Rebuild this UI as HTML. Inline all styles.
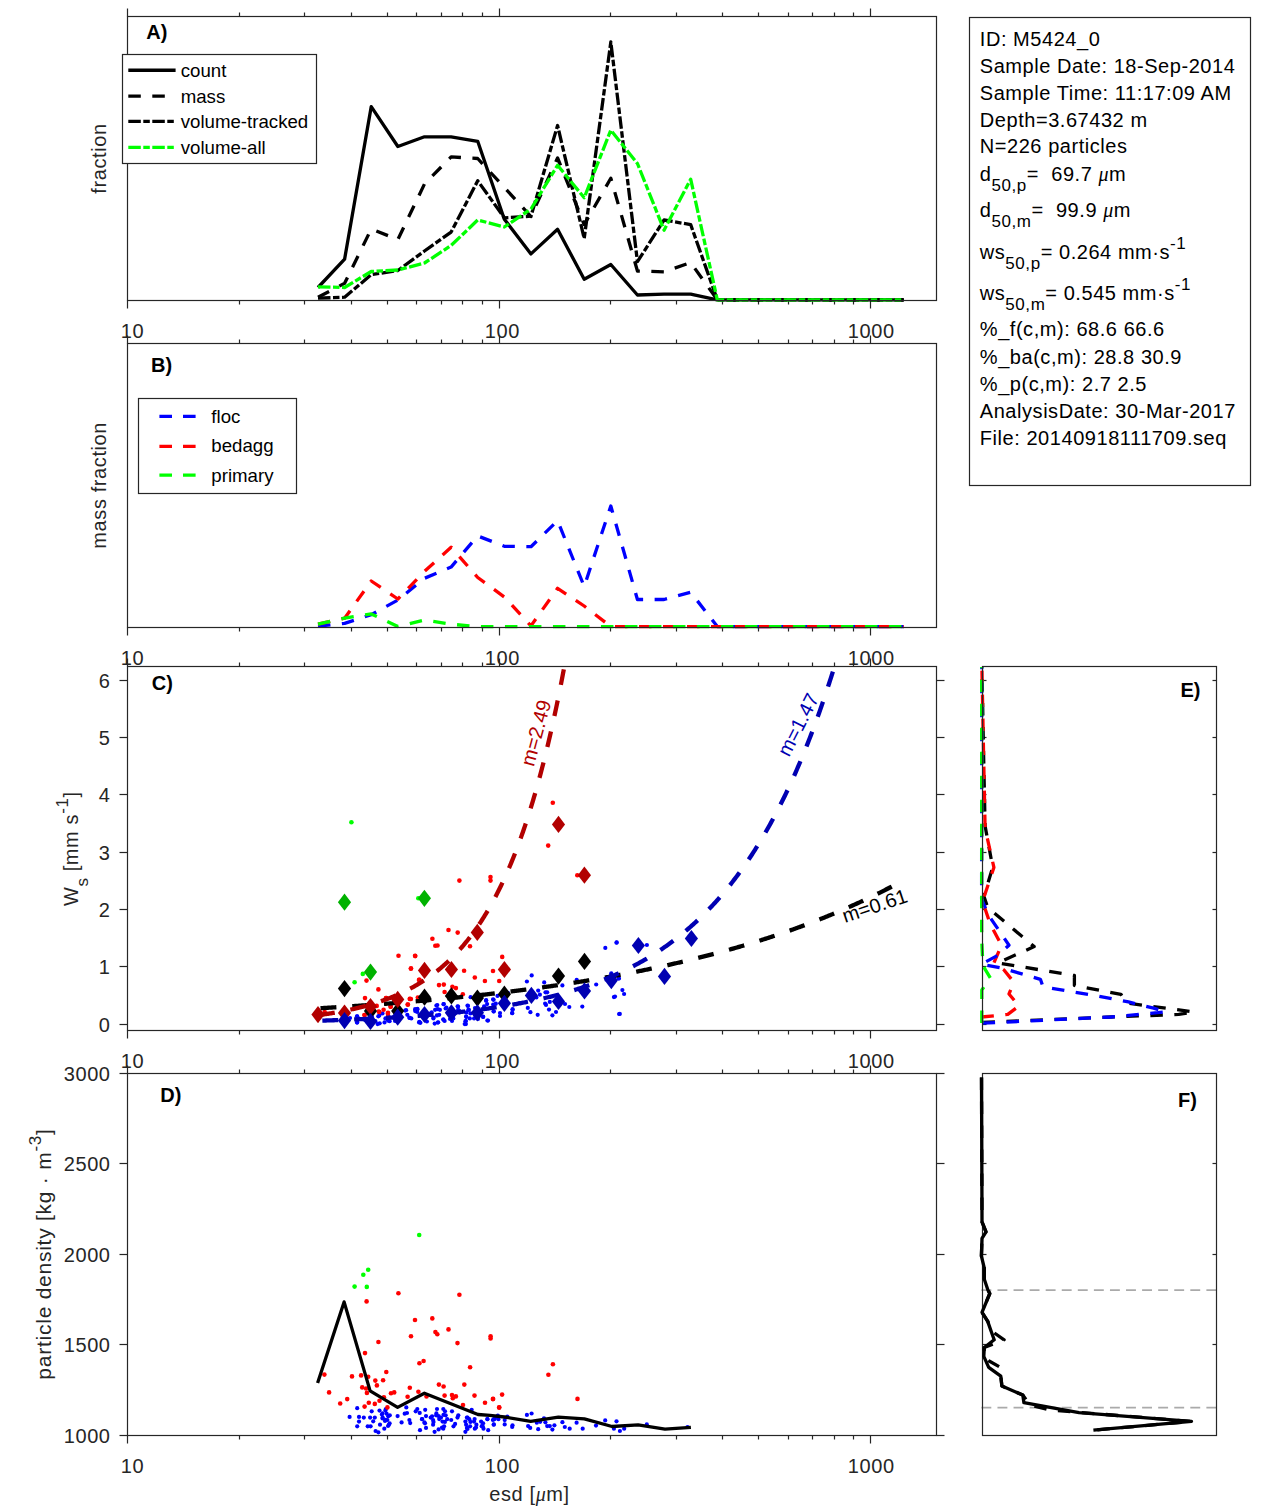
<!DOCTYPE html><html><head><meta charset="utf-8"><style>html,body{margin:0;padding:0;background:#fff;width:1270px;height:1511px;overflow:hidden}svg{display:block}</style></head><body><svg width="1270" height="1511" viewBox="0 0 1270 1511" font-family="Liberation Sans, sans-serif">
<rect width="1270" height="1511" fill="#fff"/>
<line x1="127.5" y1="300.5" x2="127.5" y2="308.5" stroke="#262626" stroke-width="1.2"/>
<line x1="127.5" y1="16.5" x2="127.5" y2="8.5" stroke="#262626" stroke-width="1.2"/>
<line x1="239.5" y1="300.5" x2="239.5" y2="304.5" stroke="#262626" stroke-width="1.2"/>
<line x1="239.5" y1="16.5" x2="239.5" y2="12.5" stroke="#262626" stroke-width="1.2"/>
<line x1="304.5" y1="300.5" x2="304.5" y2="304.5" stroke="#262626" stroke-width="1.2"/>
<line x1="304.5" y1="16.5" x2="304.5" y2="12.5" stroke="#262626" stroke-width="1.2"/>
<line x1="351.5" y1="300.5" x2="351.5" y2="304.5" stroke="#262626" stroke-width="1.2"/>
<line x1="351.5" y1="16.5" x2="351.5" y2="12.5" stroke="#262626" stroke-width="1.2"/>
<line x1="387.5" y1="300.5" x2="387.5" y2="304.5" stroke="#262626" stroke-width="1.2"/>
<line x1="387.5" y1="16.5" x2="387.5" y2="12.5" stroke="#262626" stroke-width="1.2"/>
<line x1="416.5" y1="300.5" x2="416.5" y2="304.5" stroke="#262626" stroke-width="1.2"/>
<line x1="416.5" y1="16.5" x2="416.5" y2="12.5" stroke="#262626" stroke-width="1.2"/>
<line x1="441.5" y1="300.5" x2="441.5" y2="304.5" stroke="#262626" stroke-width="1.2"/>
<line x1="441.5" y1="16.5" x2="441.5" y2="12.5" stroke="#262626" stroke-width="1.2"/>
<line x1="462.5" y1="300.5" x2="462.5" y2="304.5" stroke="#262626" stroke-width="1.2"/>
<line x1="462.5" y1="16.5" x2="462.5" y2="12.5" stroke="#262626" stroke-width="1.2"/>
<line x1="482.5" y1="300.5" x2="482.5" y2="304.5" stroke="#262626" stroke-width="1.2"/>
<line x1="482.5" y1="16.5" x2="482.5" y2="12.5" stroke="#262626" stroke-width="1.2"/>
<line x1="499.5" y1="300.5" x2="499.5" y2="308.5" stroke="#262626" stroke-width="1.2"/>
<line x1="499.5" y1="16.5" x2="499.5" y2="8.5" stroke="#262626" stroke-width="1.2"/>
<line x1="610.5" y1="300.5" x2="610.5" y2="304.5" stroke="#262626" stroke-width="1.2"/>
<line x1="610.5" y1="16.5" x2="610.5" y2="12.5" stroke="#262626" stroke-width="1.2"/>
<line x1="676.5" y1="300.5" x2="676.5" y2="304.5" stroke="#262626" stroke-width="1.2"/>
<line x1="676.5" y1="16.5" x2="676.5" y2="12.5" stroke="#262626" stroke-width="1.2"/>
<line x1="722.5" y1="300.5" x2="722.5" y2="304.5" stroke="#262626" stroke-width="1.2"/>
<line x1="722.5" y1="16.5" x2="722.5" y2="12.5" stroke="#262626" stroke-width="1.2"/>
<line x1="758.5" y1="300.5" x2="758.5" y2="304.5" stroke="#262626" stroke-width="1.2"/>
<line x1="758.5" y1="16.5" x2="758.5" y2="12.5" stroke="#262626" stroke-width="1.2"/>
<line x1="788.5" y1="300.5" x2="788.5" y2="304.5" stroke="#262626" stroke-width="1.2"/>
<line x1="788.5" y1="16.5" x2="788.5" y2="12.5" stroke="#262626" stroke-width="1.2"/>
<line x1="812.5" y1="300.5" x2="812.5" y2="304.5" stroke="#262626" stroke-width="1.2"/>
<line x1="812.5" y1="16.5" x2="812.5" y2="12.5" stroke="#262626" stroke-width="1.2"/>
<line x1="834.5" y1="300.5" x2="834.5" y2="304.5" stroke="#262626" stroke-width="1.2"/>
<line x1="834.5" y1="16.5" x2="834.5" y2="12.5" stroke="#262626" stroke-width="1.2"/>
<line x1="853.5" y1="300.5" x2="853.5" y2="304.5" stroke="#262626" stroke-width="1.2"/>
<line x1="853.5" y1="16.5" x2="853.5" y2="12.5" stroke="#262626" stroke-width="1.2"/>
<line x1="870.5" y1="300.5" x2="870.5" y2="308.5" stroke="#262626" stroke-width="1.2"/>
<line x1="870.5" y1="16.5" x2="870.5" y2="8.5" stroke="#262626" stroke-width="1.2"/>
<text x="132.5" y="337.9" font-size="20" text-anchor="middle" fill="#262626" font-weight="normal" letter-spacing="0.6">10</text>
<text x="502.3" y="337.9" font-size="20" text-anchor="middle" fill="#262626" font-weight="normal" letter-spacing="0.6">100</text>
<text x="871.3" y="337.9" font-size="20" text-anchor="middle" fill="#262626" font-weight="normal" letter-spacing="0.6">1000</text>
<polyline points="318,287.5 344.62,259.1 371.24,106.6 397.86,146.5 424.48,136.8 451.1,136.8 477.72,141.3 504.34,219.2 530.96,253.9 557.58,229.3 584.2,279.3 610.82,264.5 637.44,295 664.06,294.1 690.68,294.1 717.3,299.8 743.92,299.8 770.54,299.8 797.16,299.8 823.78,299.8 850.4,299.8 877.02,299.8 903.64,299.8" fill="none" stroke="#000" stroke-width="3.3" stroke-linejoin="round"/>
<polyline points="318,297.2 344.62,283.3 371.24,229 397.86,239.5 424.48,184 451.1,156.9 477.72,158.5 504.34,187.5 530.96,216.5 557.58,157.9 584.2,224.6 610.82,178.3 637.44,271 664.06,271.9 690.68,262.6 717.3,299.8 743.92,299.8 770.54,299.8 797.16,299.8 823.78,299.8 850.4,299.8 877.02,299.8 903.64,299.8" fill="none" stroke="#000" stroke-width="3.3" stroke-dasharray="12.5 11.5" stroke-linejoin="round"/>
<polyline points="318,298.2 344.62,297.2 371.24,274.7 397.86,270.5 424.48,251 451.1,232.1 477.72,180.8 504.34,217.8 530.96,216.2 557.58,125.5 584.2,238.5 610.82,42 637.44,261.7 664.06,220 690.68,224.6 717.3,299.8 743.92,299.8 770.54,299.8 797.16,299.8 823.78,299.8 850.4,299.8 877.02,299.8 903.64,299.8" fill="none" stroke="#000" stroke-width="3.3" stroke-dasharray="12.5 2.5 6.5 2.5" stroke-linejoin="round"/>
<polyline points="318,286.8 344.62,287.5 371.24,271.5 397.86,270 424.48,263 451.1,245.5 477.72,220 504.34,227 530.96,209 557.58,165.3 584.2,197.7 610.82,130.1 637.44,163.5 664.06,230.2 690.68,179.2 717.3,299.8 743.92,299.8 770.54,299.8 797.16,299.8 823.78,299.8 850.4,299.8 877.02,299.8 903.64,299.8" fill="none" stroke="#00ff00" stroke-width="3.3" stroke-dasharray="12.5 2.5 6.5 2.5" stroke-linejoin="round"/>
<rect x="127.5" y="16.5" width="809" height="284" fill="none" stroke="#262626" stroke-width="1.2"/>
<text x="146.3" y="38.8" font-size="20" text-anchor="start" fill="#000" font-weight="bold">A)</text>
<text x="106.1" y="158.5" font-size="20" text-anchor="middle" fill="#262626" font-weight="normal" letter-spacing="0.6" transform="rotate(-90 106.1 158.5)">fraction</text>
<rect x="122.5" y="54.5" width="194" height="109" fill="#fff" stroke="#262626" stroke-width="1.2"/>
<polyline points="128.3,70.25 175.6,70.25" fill="none" stroke="#000" stroke-width="3.3" stroke-linejoin="round"/>
<text x="180.7" y="77.2" font-size="18.67" text-anchor="start" fill="#000" font-weight="normal">count</text>
<polyline points="128.3,96.2 175.6,96.2" fill="none" stroke="#000" stroke-width="3.3" stroke-dasharray="12.5 11.5" stroke-linejoin="round"/>
<text x="180.7" y="103.2" font-size="18.67" text-anchor="start" fill="#000" font-weight="normal">mass</text>
<polyline points="128.3,121.4 175.6,121.4" fill="none" stroke="#000" stroke-width="3.3" stroke-dasharray="12.5 2.5 6.5 2.5" stroke-linejoin="round"/>
<text x="180.7" y="128.3" font-size="18.67" text-anchor="start" fill="#000" font-weight="normal">volume-tracked</text>
<polyline points="128.3,147.3 175.6,147.3" fill="none" stroke="#00ff00" stroke-width="3.3" stroke-dasharray="12.5 2.5 6.5 2.5" stroke-linejoin="round"/>
<text x="180.7" y="154.3" font-size="18.67" text-anchor="start" fill="#000" font-weight="normal">volume-all</text>
<line x1="127.5" y1="627.5" x2="127.5" y2="635.5" stroke="#262626" stroke-width="1.2"/>
<line x1="127.5" y1="343.5" x2="127.5" y2="335.5" stroke="#262626" stroke-width="1.2"/>
<line x1="239.5" y1="627.5" x2="239.5" y2="631.5" stroke="#262626" stroke-width="1.2"/>
<line x1="239.5" y1="343.5" x2="239.5" y2="339.5" stroke="#262626" stroke-width="1.2"/>
<line x1="304.5" y1="627.5" x2="304.5" y2="631.5" stroke="#262626" stroke-width="1.2"/>
<line x1="304.5" y1="343.5" x2="304.5" y2="339.5" stroke="#262626" stroke-width="1.2"/>
<line x1="351.5" y1="627.5" x2="351.5" y2="631.5" stroke="#262626" stroke-width="1.2"/>
<line x1="351.5" y1="343.5" x2="351.5" y2="339.5" stroke="#262626" stroke-width="1.2"/>
<line x1="387.5" y1="627.5" x2="387.5" y2="631.5" stroke="#262626" stroke-width="1.2"/>
<line x1="387.5" y1="343.5" x2="387.5" y2="339.5" stroke="#262626" stroke-width="1.2"/>
<line x1="416.5" y1="627.5" x2="416.5" y2="631.5" stroke="#262626" stroke-width="1.2"/>
<line x1="416.5" y1="343.5" x2="416.5" y2="339.5" stroke="#262626" stroke-width="1.2"/>
<line x1="441.5" y1="627.5" x2="441.5" y2="631.5" stroke="#262626" stroke-width="1.2"/>
<line x1="441.5" y1="343.5" x2="441.5" y2="339.5" stroke="#262626" stroke-width="1.2"/>
<line x1="462.5" y1="627.5" x2="462.5" y2="631.5" stroke="#262626" stroke-width="1.2"/>
<line x1="462.5" y1="343.5" x2="462.5" y2="339.5" stroke="#262626" stroke-width="1.2"/>
<line x1="482.5" y1="627.5" x2="482.5" y2="631.5" stroke="#262626" stroke-width="1.2"/>
<line x1="482.5" y1="343.5" x2="482.5" y2="339.5" stroke="#262626" stroke-width="1.2"/>
<line x1="499.5" y1="627.5" x2="499.5" y2="635.5" stroke="#262626" stroke-width="1.2"/>
<line x1="499.5" y1="343.5" x2="499.5" y2="335.5" stroke="#262626" stroke-width="1.2"/>
<line x1="610.5" y1="627.5" x2="610.5" y2="631.5" stroke="#262626" stroke-width="1.2"/>
<line x1="610.5" y1="343.5" x2="610.5" y2="339.5" stroke="#262626" stroke-width="1.2"/>
<line x1="676.5" y1="627.5" x2="676.5" y2="631.5" stroke="#262626" stroke-width="1.2"/>
<line x1="676.5" y1="343.5" x2="676.5" y2="339.5" stroke="#262626" stroke-width="1.2"/>
<line x1="722.5" y1="627.5" x2="722.5" y2="631.5" stroke="#262626" stroke-width="1.2"/>
<line x1="722.5" y1="343.5" x2="722.5" y2="339.5" stroke="#262626" stroke-width="1.2"/>
<line x1="758.5" y1="627.5" x2="758.5" y2="631.5" stroke="#262626" stroke-width="1.2"/>
<line x1="758.5" y1="343.5" x2="758.5" y2="339.5" stroke="#262626" stroke-width="1.2"/>
<line x1="788.5" y1="627.5" x2="788.5" y2="631.5" stroke="#262626" stroke-width="1.2"/>
<line x1="788.5" y1="343.5" x2="788.5" y2="339.5" stroke="#262626" stroke-width="1.2"/>
<line x1="812.5" y1="627.5" x2="812.5" y2="631.5" stroke="#262626" stroke-width="1.2"/>
<line x1="812.5" y1="343.5" x2="812.5" y2="339.5" stroke="#262626" stroke-width="1.2"/>
<line x1="834.5" y1="627.5" x2="834.5" y2="631.5" stroke="#262626" stroke-width="1.2"/>
<line x1="834.5" y1="343.5" x2="834.5" y2="339.5" stroke="#262626" stroke-width="1.2"/>
<line x1="853.5" y1="627.5" x2="853.5" y2="631.5" stroke="#262626" stroke-width="1.2"/>
<line x1="853.5" y1="343.5" x2="853.5" y2="339.5" stroke="#262626" stroke-width="1.2"/>
<line x1="870.5" y1="627.5" x2="870.5" y2="635.5" stroke="#262626" stroke-width="1.2"/>
<line x1="870.5" y1="343.5" x2="870.5" y2="335.5" stroke="#262626" stroke-width="1.2"/>
<text x="132.5" y="664.9" font-size="20" text-anchor="middle" fill="#262626" font-weight="normal" letter-spacing="0.6">10</text>
<text x="502.3" y="664.9" font-size="20" text-anchor="middle" fill="#262626" font-weight="normal" letter-spacing="0.6">100</text>
<text x="871.3" y="664.9" font-size="20" text-anchor="middle" fill="#262626" font-weight="normal" letter-spacing="0.6">1000</text>
<polyline points="318,626.2 344.62,623.4 371.24,614.7 397.86,600 424.48,578.3 451.1,567.1 477.72,535.9 504.34,546.3 530.96,546.7 557.58,520.7 584.2,586.5 610.82,506 637.44,599.5 664.06,599.5 690.68,592.2 717.3,626.6 743.92,626.6 770.54,626.6 797.16,626.6 823.78,626.6 850.4,626.6 877.02,626.6 903.64,626.6" fill="none" stroke="#0000ff" stroke-width="3.3" stroke-dasharray="12.5 11.5" stroke-linejoin="round"/>
<polyline points="318,624.2 344.62,618.2 371.24,581 397.86,599 424.48,571.4 451.1,547.2 477.72,577.5 504.34,597 530.96,625.9 557.58,588.3 584.2,606 610.82,626.6 637.44,626.6 664.06,626.6 690.68,626.6 717.3,626.6 743.92,626.6 770.54,626.6 797.16,626.6 823.78,626.6 850.4,626.6 877.02,626.6 903.64,626.6" fill="none" stroke="#ff0000" stroke-width="3.3" stroke-dasharray="12.5 11.5" stroke-linejoin="round"/>
<polyline points="318,624.2 344.62,618.2 371.24,613.9 397.86,626.5 424.48,620 451.1,624.2 477.72,626.6 504.34,626.6 530.96,626.6 557.58,626.6 584.2,626.6 610.82,626.6 637.44,626.6 664.06,626.6 690.68,626.6 717.3,626.6 743.92,626.6 770.54,626.6 797.16,626.6 823.78,626.6 850.4,626.6 877.02,626.6 903.64,626.6" fill="none" stroke="#00ff00" stroke-width="3.3" stroke-dasharray="12.5 11.5" stroke-linejoin="round"/>
<rect x="127.5" y="343.5" width="809" height="284" fill="none" stroke="#262626" stroke-width="1.2"/>
<text x="151" y="371.5" font-size="20" text-anchor="start" fill="#000" font-weight="bold">B)</text>
<text x="106.1" y="485.3" font-size="20" text-anchor="middle" fill="#262626" font-weight="normal" letter-spacing="0.6" transform="rotate(-90 106.1 485.3)">mass fraction</text>
<rect x="138.5" y="398.5" width="158" height="95" fill="#fff" stroke="#262626" stroke-width="1.2"/>
<polyline points="159.4,416.4 196.1,416.4" fill="none" stroke="#0000ff" stroke-width="3.3" stroke-dasharray="12.6 11" stroke-linejoin="round"/>
<text x="211.3" y="423.1" font-size="18.67" text-anchor="start" fill="#000" font-weight="normal">floc</text>
<polyline points="159.4,446.3 196.1,446.3" fill="none" stroke="#ff0000" stroke-width="3.3" stroke-dasharray="12.6 11" stroke-linejoin="round"/>
<text x="211.3" y="452.3" font-size="18.67" text-anchor="start" fill="#000" font-weight="normal">bedagg</text>
<polyline points="159.4,475.1 196.1,475.1" fill="none" stroke="#00ff00" stroke-width="3.3" stroke-dasharray="12.6 11" stroke-linejoin="round"/>
<text x="211.3" y="481.7" font-size="18.67" text-anchor="start" fill="#000" font-weight="normal">primary</text>
<line x1="127.5" y1="1030.5" x2="127.5" y2="1038.5" stroke="#262626" stroke-width="1.2"/>
<line x1="127.5" y1="666.5" x2="127.5" y2="658.5" stroke="#262626" stroke-width="1.2"/>
<line x1="239.5" y1="1030.5" x2="239.5" y2="1034.5" stroke="#262626" stroke-width="1.2"/>
<line x1="239.5" y1="666.5" x2="239.5" y2="662.5" stroke="#262626" stroke-width="1.2"/>
<line x1="304.5" y1="1030.5" x2="304.5" y2="1034.5" stroke="#262626" stroke-width="1.2"/>
<line x1="304.5" y1="666.5" x2="304.5" y2="662.5" stroke="#262626" stroke-width="1.2"/>
<line x1="351.5" y1="1030.5" x2="351.5" y2="1034.5" stroke="#262626" stroke-width="1.2"/>
<line x1="351.5" y1="666.5" x2="351.5" y2="662.5" stroke="#262626" stroke-width="1.2"/>
<line x1="387.5" y1="1030.5" x2="387.5" y2="1034.5" stroke="#262626" stroke-width="1.2"/>
<line x1="387.5" y1="666.5" x2="387.5" y2="662.5" stroke="#262626" stroke-width="1.2"/>
<line x1="416.5" y1="1030.5" x2="416.5" y2="1034.5" stroke="#262626" stroke-width="1.2"/>
<line x1="416.5" y1="666.5" x2="416.5" y2="662.5" stroke="#262626" stroke-width="1.2"/>
<line x1="441.5" y1="1030.5" x2="441.5" y2="1034.5" stroke="#262626" stroke-width="1.2"/>
<line x1="441.5" y1="666.5" x2="441.5" y2="662.5" stroke="#262626" stroke-width="1.2"/>
<line x1="462.5" y1="1030.5" x2="462.5" y2="1034.5" stroke="#262626" stroke-width="1.2"/>
<line x1="462.5" y1="666.5" x2="462.5" y2="662.5" stroke="#262626" stroke-width="1.2"/>
<line x1="482.5" y1="1030.5" x2="482.5" y2="1034.5" stroke="#262626" stroke-width="1.2"/>
<line x1="482.5" y1="666.5" x2="482.5" y2="662.5" stroke="#262626" stroke-width="1.2"/>
<line x1="499.5" y1="1030.5" x2="499.5" y2="1038.5" stroke="#262626" stroke-width="1.2"/>
<line x1="499.5" y1="666.5" x2="499.5" y2="658.5" stroke="#262626" stroke-width="1.2"/>
<line x1="610.5" y1="1030.5" x2="610.5" y2="1034.5" stroke="#262626" stroke-width="1.2"/>
<line x1="610.5" y1="666.5" x2="610.5" y2="662.5" stroke="#262626" stroke-width="1.2"/>
<line x1="676.5" y1="1030.5" x2="676.5" y2="1034.5" stroke="#262626" stroke-width="1.2"/>
<line x1="676.5" y1="666.5" x2="676.5" y2="662.5" stroke="#262626" stroke-width="1.2"/>
<line x1="722.5" y1="1030.5" x2="722.5" y2="1034.5" stroke="#262626" stroke-width="1.2"/>
<line x1="722.5" y1="666.5" x2="722.5" y2="662.5" stroke="#262626" stroke-width="1.2"/>
<line x1="758.5" y1="1030.5" x2="758.5" y2="1034.5" stroke="#262626" stroke-width="1.2"/>
<line x1="758.5" y1="666.5" x2="758.5" y2="662.5" stroke="#262626" stroke-width="1.2"/>
<line x1="788.5" y1="1030.5" x2="788.5" y2="1034.5" stroke="#262626" stroke-width="1.2"/>
<line x1="788.5" y1="666.5" x2="788.5" y2="662.5" stroke="#262626" stroke-width="1.2"/>
<line x1="812.5" y1="1030.5" x2="812.5" y2="1034.5" stroke="#262626" stroke-width="1.2"/>
<line x1="812.5" y1="666.5" x2="812.5" y2="662.5" stroke="#262626" stroke-width="1.2"/>
<line x1="834.5" y1="1030.5" x2="834.5" y2="1034.5" stroke="#262626" stroke-width="1.2"/>
<line x1="834.5" y1="666.5" x2="834.5" y2="662.5" stroke="#262626" stroke-width="1.2"/>
<line x1="853.5" y1="1030.5" x2="853.5" y2="1034.5" stroke="#262626" stroke-width="1.2"/>
<line x1="853.5" y1="666.5" x2="853.5" y2="662.5" stroke="#262626" stroke-width="1.2"/>
<line x1="870.5" y1="1030.5" x2="870.5" y2="1038.5" stroke="#262626" stroke-width="1.2"/>
<line x1="870.5" y1="666.5" x2="870.5" y2="658.5" stroke="#262626" stroke-width="1.2"/>
<text x="132.5" y="1067.9" font-size="20" text-anchor="middle" fill="#262626" font-weight="normal" letter-spacing="0.6">10</text>
<text x="502.3" y="1067.9" font-size="20" text-anchor="middle" fill="#262626" font-weight="normal" letter-spacing="0.6">100</text>
<text x="871.3" y="1067.9" font-size="20" text-anchor="middle" fill="#262626" font-weight="normal" letter-spacing="0.6">1000</text>
<defs><clipPath id="clipC"><rect x="127.7" y="666.5" width="808.8" height="364.1"/></clipPath></defs>
<g clip-path="url(#clipC)">
<circle cx="357.2" cy="1016.3" r="2.1" fill="#0000ff"/>
<circle cx="357.2" cy="1022.4" r="2.1" fill="#0000ff"/>
<circle cx="379.3" cy="1015.4" r="2.1" fill="#0000ff"/>
<circle cx="377.6" cy="1024.1" r="2.1" fill="#0000ff"/>
<circle cx="384.5" cy="1022.4" r="2.1" fill="#0000ff"/>
<circle cx="388" cy="1020.6" r="2.1" fill="#0000ff"/>
<circle cx="406.1" cy="1010.2" r="2.1" fill="#0000ff"/>
<circle cx="409.6" cy="1018" r="2.1" fill="#0000ff"/>
<circle cx="417.4" cy="1009.4" r="2.1" fill="#0000ff"/>
<circle cx="419.1" cy="1022.4" r="2.1" fill="#0000ff"/>
<circle cx="415.2" cy="1011.1" r="2.1" fill="#0000ff"/>
<circle cx="417.4" cy="1008.9" r="2.1" fill="#0000ff"/>
<circle cx="411.3" cy="1018.4" r="2.1" fill="#0000ff"/>
<circle cx="420.4" cy="1022.8" r="2.1" fill="#0000ff"/>
<circle cx="426.9" cy="1021.5" r="2.1" fill="#0000ff"/>
<circle cx="431.7" cy="1012.4" r="2.1" fill="#0000ff"/>
<circle cx="433.4" cy="1018.4" r="2.1" fill="#0000ff"/>
<circle cx="436.9" cy="1015.4" r="2.1" fill="#0000ff"/>
<circle cx="435.1" cy="1009.8" r="2.1" fill="#0000ff"/>
<circle cx="437.3" cy="1005" r="2.1" fill="#0000ff"/>
<circle cx="443.8" cy="1004.1" r="2.1" fill="#0000ff"/>
<circle cx="446.4" cy="1007.6" r="2.1" fill="#0000ff"/>
<circle cx="439.9" cy="1009.8" r="2.1" fill="#0000ff"/>
<circle cx="443.3" cy="1019.3" r="2.1" fill="#0000ff"/>
<circle cx="444.6" cy="1021" r="2.1" fill="#0000ff"/>
<circle cx="434.7" cy="1023.6" r="2.1" fill="#0000ff"/>
<circle cx="438.2" cy="1022.3" r="2.1" fill="#0000ff"/>
<circle cx="458.1" cy="1006.7" r="2.1" fill="#0000ff"/>
<circle cx="458.1" cy="1009.8" r="2.1" fill="#0000ff"/>
<circle cx="459.4" cy="1012.4" r="2.1" fill="#0000ff"/>
<circle cx="453.3" cy="1018.4" r="2.1" fill="#0000ff"/>
<circle cx="468" cy="1005.9" r="2.1" fill="#0000ff"/>
<circle cx="468.9" cy="1009.8" r="2.1" fill="#0000ff"/>
<circle cx="466.3" cy="1012.4" r="2.1" fill="#0000ff"/>
<circle cx="466.3" cy="1017.1" r="2.1" fill="#0000ff"/>
<circle cx="469.8" cy="1018.4" r="2.1" fill="#0000ff"/>
<circle cx="465.9" cy="1021" r="2.1" fill="#0000ff"/>
<circle cx="465.9" cy="1024.1" r="2.1" fill="#0000ff"/>
<circle cx="470.6" cy="997.2" r="2.1" fill="#0000ff"/>
<circle cx="474.1" cy="1018.4" r="2.1" fill="#0000ff"/>
<circle cx="486.2" cy="1000.2" r="2.1" fill="#0000ff"/>
<circle cx="487.1" cy="1004.1" r="2.1" fill="#0000ff"/>
<circle cx="484.1" cy="1006.3" r="2.1" fill="#0000ff"/>
<circle cx="483.2" cy="1016.7" r="2.1" fill="#0000ff"/>
<circle cx="488" cy="1020.6" r="2.1" fill="#0000ff"/>
<circle cx="493.6" cy="999.8" r="2.1" fill="#0000ff"/>
<circle cx="497.5" cy="995.9" r="2.1" fill="#0000ff"/>
<circle cx="493.2" cy="1004.6" r="2.1" fill="#0000ff"/>
<circle cx="495.8" cy="1003.7" r="2.1" fill="#0000ff"/>
<circle cx="493.6" cy="1011.5" r="2.1" fill="#0000ff"/>
<circle cx="512.6" cy="1009.8" r="2.1" fill="#0000ff"/>
<circle cx="512.2" cy="1013.2" r="2.1" fill="#0000ff"/>
<circle cx="507.9" cy="992.9" r="2.1" fill="#0000ff"/>
<circle cx="531.7" cy="975.4" r="2.1" fill="#0000ff"/>
<circle cx="526.9" cy="981.5" r="2.1" fill="#0000ff"/>
<circle cx="544.2" cy="982.4" r="2.1" fill="#0000ff"/>
<circle cx="538.2" cy="990.6" r="2.1" fill="#0000ff"/>
<circle cx="539.9" cy="994.7" r="2.1" fill="#0000ff"/>
<circle cx="545.5" cy="992.3" r="2.1" fill="#0000ff"/>
<circle cx="547.2" cy="992.3" r="2.1" fill="#0000ff"/>
<circle cx="536.4" cy="997.5" r="2.1" fill="#0000ff"/>
<circle cx="545.1" cy="1003.6" r="2.1" fill="#0000ff"/>
<circle cx="546" cy="1004.9" r="2.1" fill="#0000ff"/>
<circle cx="549.8" cy="1001.9" r="2.1" fill="#0000ff"/>
<circle cx="562.4" cy="985.4" r="2.1" fill="#0000ff"/>
<circle cx="565" cy="1004" r="2.1" fill="#0000ff"/>
<circle cx="569.3" cy="1007" r="2.1" fill="#0000ff"/>
<circle cx="582.3" cy="1006.6" r="2.1" fill="#0000ff"/>
<circle cx="576.7" cy="979.8" r="2.1" fill="#0000ff"/>
<circle cx="596.2" cy="984.5" r="2.1" fill="#0000ff"/>
<circle cx="613.9" cy="997.1" r="2.1" fill="#0000ff"/>
<circle cx="605.3" cy="947.9" r="2.1" fill="#0000ff"/>
<circle cx="616.5" cy="942.7" r="2.1" fill="#0000ff"/>
<circle cx="619.1" cy="1014" r="2.1" fill="#0000ff"/>
<circle cx="527.8" cy="1007.9" r="2.1" fill="#0000ff"/>
<circle cx="530.4" cy="1012.2" r="2.1" fill="#0000ff"/>
<circle cx="537.7" cy="1014.8" r="2.1" fill="#0000ff"/>
<circle cx="549" cy="1009.6" r="2.1" fill="#0000ff"/>
<circle cx="552.4" cy="1015.3" r="2.1" fill="#0000ff"/>
<circle cx="512.6" cy="1009.2" r="2.1" fill="#0000ff"/>
<circle cx="512.2" cy="1013.1" r="2.1" fill="#0000ff"/>
<circle cx="618.7" cy="978.5" r="2.1" fill="#0000ff"/>
<circle cx="611.3" cy="973.3" r="2.1" fill="#0000ff"/>
<circle cx="616.7" cy="942.4" r="2.1" fill="#0000ff"/>
<circle cx="646.9" cy="945" r="2.1" fill="#0000ff"/>
<circle cx="618.9" cy="978.4" r="2.1" fill="#0000ff"/>
<circle cx="622.4" cy="990.1" r="2.1" fill="#0000ff"/>
<circle cx="624.1" cy="994" r="2.1" fill="#0000ff"/>
<circle cx="615" cy="996.6" r="2.1" fill="#0000ff"/>
<circle cx="619.8" cy="1013.9" r="2.1" fill="#0000ff"/>
<circle cx="357" cy="1016.3" r="2.1" fill="#0000ff"/>
<circle cx="357" cy="1022.6" r="2.1" fill="#0000ff"/>
<circle cx="375.4" cy="1021.2" r="2.1" fill="#0000ff"/>
<circle cx="378.3" cy="1016.3" r="2.1" fill="#0000ff"/>
<circle cx="379.7" cy="1023.3" r="2.1" fill="#0000ff"/>
<circle cx="382.5" cy="1013.4" r="2.1" fill="#0000ff"/>
<circle cx="385.4" cy="1018.4" r="2.1" fill="#0000ff"/>
<circle cx="388.2" cy="1015.6" r="2.1" fill="#0000ff"/>
<circle cx="389.6" cy="1021.2" r="2.1" fill="#0000ff"/>
<circle cx="405.2" cy="1010.6" r="2.1" fill="#0000ff"/>
<circle cx="407.3" cy="1014.8" r="2.1" fill="#0000ff"/>
<circle cx="409.4" cy="1017.7" r="2.1" fill="#0000ff"/>
<circle cx="415.1" cy="1009.2" r="2.1" fill="#0000ff"/>
<circle cx="417.2" cy="1012" r="2.1" fill="#0000ff"/>
<circle cx="419.4" cy="1021.9" r="2.1" fill="#0000ff"/>
<circle cx="430.7" cy="1013.4" r="2.1" fill="#0000ff"/>
<circle cx="433.5" cy="1017.7" r="2.1" fill="#0000ff"/>
<circle cx="436.4" cy="1005.6" r="2.1" fill="#0000ff"/>
<circle cx="437.8" cy="1009.2" r="2.1" fill="#0000ff"/>
<circle cx="439.2" cy="1014.8" r="2.1" fill="#0000ff"/>
<circle cx="437.8" cy="1022.6" r="2.1" fill="#0000ff"/>
<circle cx="443.5" cy="1004.2" r="2.1" fill="#0000ff"/>
<circle cx="445.6" cy="1008.5" r="2.1" fill="#0000ff"/>
<circle cx="443.5" cy="1019.8" r="2.1" fill="#0000ff"/>
<circle cx="454.8" cy="1013.4" r="2.1" fill="#0000ff"/>
<circle cx="457.6" cy="1006.3" r="2.1" fill="#0000ff"/>
<circle cx="459" cy="1010.6" r="2.1" fill="#0000ff"/>
<circle cx="467.5" cy="1005.6" r="2.1" fill="#0000ff"/>
<circle cx="468.3" cy="1009.9" r="2.1" fill="#0000ff"/>
<circle cx="466.1" cy="1016.3" r="2.1" fill="#0000ff"/>
<circle cx="465.4" cy="1021.2" r="2.1" fill="#0000ff"/>
<circle cx="464.7" cy="1024.1" r="2.1" fill="#0000ff"/>
<circle cx="470.4" cy="1013.4" r="2.1" fill="#0000ff"/>
<circle cx="483.1" cy="1017" r="2.1" fill="#0000ff"/>
<circle cx="487.4" cy="1020.5" r="2.1" fill="#0000ff"/>
<circle cx="486" cy="1000.7" r="2.1" fill="#0000ff"/>
<circle cx="493.1" cy="999.3" r="2.1" fill="#0000ff"/>
<circle cx="493.8" cy="1011.3" r="2.1" fill="#0000ff"/>
<circle cx="362" cy="1019" r="2.1" fill="#0000ff"/>
<circle cx="398" cy="1018" r="2.1" fill="#0000ff"/>
<circle cx="425" cy="1019" r="2.1" fill="#0000ff"/>
<circle cx="450" cy="1019" r="2.1" fill="#0000ff"/>
<circle cx="478" cy="1019" r="2.1" fill="#0000ff"/>
<circle cx="500" cy="1013" r="2.1" fill="#0000ff"/>
<circle cx="350" cy="1018" r="2.1" fill="#0000ff"/>
<circle cx="365" cy="1020" r="2.1" fill="#0000ff"/>
<circle cx="372" cy="1017" r="2.1" fill="#0000ff"/>
<circle cx="395" cy="1021" r="2.1" fill="#0000ff"/>
<circle cx="400" cy="1014" r="2.1" fill="#0000ff"/>
<circle cx="452" cy="1021" r="2.1" fill="#0000ff"/>
<circle cx="475" cy="1008" r="2.1" fill="#0000ff"/>
<circle cx="500" cy="1016" r="2.1" fill="#0000ff"/>
<circle cx="520" cy="1003" r="2.1" fill="#0000ff"/>
<circle cx="556" cy="1012" r="2.1" fill="#0000ff"/>
<circle cx="552.8" cy="802.7" r="2.3" fill="#ff0000"/>
<circle cx="548.2" cy="845.6" r="2.3" fill="#ff0000"/>
<circle cx="577.3" cy="875.2" r="2.3" fill="#ff0000"/>
<circle cx="490.5" cy="877.1" r="2.3" fill="#ff0000"/>
<circle cx="490.5" cy="880.6" r="2.3" fill="#ff0000"/>
<circle cx="459.4" cy="880.6" r="2.3" fill="#ff0000"/>
<circle cx="448.5" cy="930" r="2.3" fill="#ff0000"/>
<circle cx="457.7" cy="932.6" r="2.3" fill="#ff0000"/>
<circle cx="432.4" cy="938.7" r="2.3" fill="#ff0000"/>
<circle cx="435.3" cy="945.8" r="2.3" fill="#ff0000"/>
<circle cx="437.5" cy="945.5" r="2.3" fill="#ff0000"/>
<circle cx="470" cy="946.2" r="2.3" fill="#ff0000"/>
<circle cx="398.5" cy="955.7" r="2.3" fill="#ff0000"/>
<circle cx="415.1" cy="955.7" r="2.3" fill="#ff0000"/>
<circle cx="502.2" cy="956.9" r="2.3" fill="#ff0000"/>
<circle cx="410.9" cy="968.7" r="2.3" fill="#ff0000"/>
<circle cx="419" cy="979.9" r="2.3" fill="#ff0000"/>
<circle cx="366.5" cy="980.6" r="2.3" fill="#ff0000"/>
<circle cx="378.4" cy="989.4" r="2.3" fill="#ff0000"/>
<circle cx="365" cy="998.1" r="2.3" fill="#ff0000"/>
<circle cx="386.2" cy="998.1" r="2.3" fill="#ff0000"/>
<circle cx="410" cy="999" r="2.3" fill="#ff0000"/>
<circle cx="407.9" cy="1004.6" r="2.3" fill="#ff0000"/>
<circle cx="383.6" cy="1009.8" r="2.3" fill="#ff0000"/>
<circle cx="379.3" cy="1012" r="2.3" fill="#ff0000"/>
<circle cx="388" cy="1012.8" r="2.3" fill="#ff0000"/>
<circle cx="364.6" cy="1015" r="2.3" fill="#ff0000"/>
<circle cx="376.7" cy="1005.9" r="2.3" fill="#ff0000"/>
<circle cx="324.7" cy="1012" r="2.3" fill="#ff0000"/>
<circle cx="390.6" cy="1006.8" r="2.3" fill="#ff0000"/>
<circle cx="415.2" cy="956.1" r="2.3" fill="#ff0000"/>
<circle cx="439" cy="985.1" r="2.3" fill="#ff0000"/>
<circle cx="443.8" cy="984.6" r="2.3" fill="#ff0000"/>
<circle cx="452.4" cy="986.8" r="2.3" fill="#ff0000"/>
<circle cx="455.9" cy="988.1" r="2.3" fill="#ff0000"/>
<circle cx="444.6" cy="992" r="2.3" fill="#ff0000"/>
<circle cx="464.1" cy="970.8" r="2.3" fill="#ff0000"/>
<circle cx="462.8" cy="994.2" r="2.3" fill="#ff0000"/>
<circle cx="474.8" cy="977.5" r="2.3" fill="#ff0000"/>
<circle cx="484.9" cy="981" r="2.3" fill="#ff0000"/>
<circle cx="493" cy="971" r="2.3" fill="#ff0000"/>
<circle cx="499.2" cy="981" r="2.3" fill="#ff0000"/>
<circle cx="410.9" cy="999" r="2.3" fill="#ff0000"/>
<circle cx="417.8" cy="997.6" r="2.3" fill="#ff0000"/>
<circle cx="411" cy="968.3" r="2.3" fill="#ff0000"/>
<circle cx="419.5" cy="979.7" r="2.3" fill="#ff0000"/>
<circle cx="386" cy="998.1" r="2.3" fill="#ff0000"/>
<circle cx="378.7" cy="1011.6" r="2.3" fill="#ff0000"/>
<circle cx="387.9" cy="1013.7" r="2.3" fill="#ff0000"/>
<circle cx="364.5" cy="1015.1" r="2.3" fill="#ff0000"/>
<circle cx="409.8" cy="998.8" r="2.3" fill="#ff0000"/>
<circle cx="407.7" cy="1004.5" r="2.3" fill="#ff0000"/>
<circle cx="390.7" cy="1006.6" r="2.3" fill="#ff0000"/>
<circle cx="418.3" cy="998.1" r="2.3" fill="#ff0000"/>
<circle cx="351.4" cy="822.2" r="2.3" fill="#00ff00"/>
<circle cx="418.3" cy="898.3" r="2.3" fill="#00ff00"/>
<circle cx="354.6" cy="982.3" r="2.3" fill="#00ff00"/>
<circle cx="362.8" cy="973.9" r="2.3" fill="#00ff00"/>
<polyline points="318,1008.36 319,1008.3 320,1008.24 321,1008.18 322,1008.12 323,1008.06 324,1008 325,1007.94 326,1007.88 327,1007.82 328,1007.75 329,1007.69 330,1007.63 331,1007.57 332,1007.5 333,1007.44 334,1007.38 335,1007.32 336,1007.25 337,1007.19 338,1007.12 339,1007.06 340,1007 341,1006.93 342,1006.87 343,1006.8 344,1006.74 345,1006.67 346,1006.6 347,1006.54 348,1006.47 349,1006.4 350,1006.34 351,1006.27 352,1006.2 353,1006.13 354,1006.07 355,1006 356,1005.93 357,1005.86 358,1005.79 359,1005.72 360,1005.65 361,1005.58 362,1005.51 363,1005.44 364,1005.37 365,1005.3 366,1005.23 367,1005.16 368,1005.09 369,1005.02 370,1004.94 371,1004.87 372,1004.8 373,1004.72 374,1004.65 375,1004.58 376,1004.5 377,1004.43 378,1004.36 379,1004.28 380,1004.21 381,1004.13 382,1004.05 383,1003.98 384,1003.9 385,1003.83 386,1003.75 387,1003.67 388,1003.59 389,1003.52 390,1003.44 391,1003.36 392,1003.28 393,1003.2 394,1003.12 395,1003.05 396,1002.97 397,1002.89 398,1002.81 399,1002.72 400,1002.64 401,1002.56 402,1002.48 403,1002.4 404,1002.32 405,1002.23 406,1002.15 407,1002.07 408,1001.99 409,1001.9 410,1001.82 411,1001.73 412,1001.65 413,1001.56 414,1001.48 415,1001.39 416,1001.31 417,1001.22 418,1001.13 419,1001.05 420,1000.96 421,1000.87 422,1000.78 423,1000.7 424,1000.61 425,1000.52 426,1000.43 427,1000.34 428,1000.25 429,1000.16 430,1000.07 431,999.98 432,999.89 433,999.8 434,999.7 435,999.61 436,999.52 437,999.43 438,999.33 439,999.24 440,999.14 441,999.05 442,998.95 443,998.86 444,998.76 445,998.67 446,998.57 447,998.48 448,998.38 449,998.28 450,998.18 451,998.09 452,997.99 453,997.89 454,997.79 455,997.69 456,997.59 457,997.49 458,997.39 459,997.29 460,997.19 461,997.08 462,996.98 463,996.88 464,996.78 465,996.67 466,996.57 467,996.46 468,996.36 469,996.25 470,996.15 471,996.04 472,995.94 473,995.83 474,995.72 475,995.62 476,995.51 477,995.4 478,995.29 479,995.18 480,995.07 481,994.96 482,994.85 483,994.74 484,994.63 485,994.52 486,994.41 487,994.3 488,994.18 489,994.07 490,993.96 491,993.84 492,993.73 493,993.61 494,993.5 495,993.38 496,993.26 497,993.15 498,993.03 499,992.91 500,992.79 501,992.68 502,992.56 503,992.44 504,992.32 505,992.2 506,992.08 507,991.96 508,991.83 509,991.71 510,991.59 511,991.47 512,991.34 513,991.22 514,991.09 515,990.97 516,990.84 517,990.72 518,990.59 519,990.47 520,990.34 521,990.21 522,990.08 523,989.95 524,989.82 525,989.69 526,989.56 527,989.43 528,989.3 529,989.17 530,989.04 531,988.91 532,988.77 533,988.64 534,988.5 535,988.37 536,988.23 537,988.1 538,987.96 539,987.83 540,987.69 541,987.55 542,987.41 543,987.27 544,987.13 545,986.99 546,986.85 547,986.71 548,986.57 549,986.43 550,986.29 551,986.14 552,986 553,985.86 554,985.71 555,985.57 556,985.42 557,985.27 558,985.13 559,984.98 560,984.83 561,984.68 562,984.53 563,984.38 564,984.23 565,984.08 566,983.93 567,983.78 568,983.63 569,983.47 570,983.32 571,983.16 572,983.01 573,982.85 574,982.7 575,982.54 576,982.38 577,982.23 578,982.07 579,981.91 580,981.75 581,981.59 582,981.43 583,981.27 584,981.1 585,980.94 586,980.78 587,980.61 588,980.45 589,980.28 590,980.12 591,979.95 592,979.78 593,979.62 594,979.45 595,979.28 596,979.11 597,978.94 598,978.77 599,978.6 600,978.42 601,978.25 602,978.08 603,977.9 604,977.73 605,977.55 606,977.38 607,977.2 608,977.02 609,976.85 610,976.67 611,976.49 612,976.31 613,976.13 614,975.94 615,975.76 616,975.58 617,975.4 618,975.21 619,975.03 620,974.84 621,974.65 622,974.47 623,974.28 624,974.09 625,973.9 626,973.71 627,973.52 628,973.33 629,973.14 630,972.94 631,972.75 632,972.56 633,972.36 634,972.16 635,971.97 636,971.77 637,971.57 638,971.37 639,971.17 640,970.97 641,970.77 642,970.57 643,970.37 644,970.16 645,969.96 646,969.76 647,969.55 648,969.34 649,969.14 650,968.93 651,968.72 652,968.51 653,968.3 654,968.09 655,967.88 656,967.66 657,967.45 658,967.24 659,967.02 660,966.8 661,966.59 662,966.37 663,966.15 664,965.93 665,965.71 666,965.49 667,965.27 668,965.05 669,964.82 670,964.6 671,964.37 672,964.15 673,963.92 674,963.69 675,963.46 676,963.23 677,963 678,962.77 679,962.54 680,962.31 681,962.07 682,961.84 683,961.6 684,961.37 685,961.13 686,960.89 687,960.65 688,960.41 689,960.17 690,959.93 691,959.69 692,959.44 693,959.2 694,958.95 695,958.7 696,958.46 697,958.21 698,957.96 699,957.71 700,957.46 701,957.21 702,956.95 703,956.7 704,956.44 705,956.19 706,955.93 707,955.67 708,955.41 709,955.15 710,954.89 711,954.63 712,954.37 713,954.1 714,953.84 715,953.57 716,953.31 717,953.04 718,952.77 719,952.5 720,952.23 721,951.96 722,951.68 723,951.41 724,951.13 725,950.86 726,950.58 727,950.3 728,950.02 729,949.74 730,949.46 731,949.18 732,948.89 733,948.61 734,948.32 735,948.04 736,947.75 737,947.46 738,947.17 739,946.88 740,946.59 741,946.29 742,946 743,945.7 744,945.41 745,945.11 746,944.81 747,944.51 748,944.21 749,943.91 750,943.6 751,943.3 752,942.99 753,942.69 754,942.38 755,942.07 756,941.76 757,941.45 758,941.13 759,940.82 760,940.5 761,940.19 762,939.87 763,939.55 764,939.23 765,938.91 766,938.59 767,938.26 768,937.94 769,937.61 770,937.28 771,936.96 772,936.63 773,936.3 774,935.96 775,935.63 776,935.29 777,934.96 778,934.62 779,934.28 780,933.94 781,933.6 782,933.26 783,932.91 784,932.57 785,932.22 786,931.88 787,931.53 788,931.18 789,930.82 790,930.47 791,930.12 792,929.76 793,929.4 794,929.05 795,928.69 796,928.33 797,927.96 798,927.6 799,927.23 800,926.87 801,926.5 802,926.13 803,925.76 804,925.39 805,925.01 806,924.64 807,924.26 808,923.88 809,923.5 810,923.12 811,922.74 812,922.36 813,921.97 814,921.59 815,921.2 816,920.81 817,920.42 818,920.02 819,919.63 820,919.24 821,918.84 822,918.44 823,918.04 824,917.64 825,917.24 826,916.83 827,916.43 828,916.02 829,915.61 830,915.2 831,914.79 832,914.37 833,913.96 834,913.54 835,913.12 836,912.7 837,912.28 838,911.86 839,911.43 840,911.01 841,910.58 842,910.15 843,909.72 844,909.28 845,908.85 846,908.41 847,907.97 848,907.54 849,907.09 850,906.65 851,906.21 852,905.76 853,905.31 854,904.86 855,904.41 856,903.96 857,903.5 858,903.05 859,902.59 860,902.13 861,901.67 862,901.2 863,900.74 864,900.27 865,899.8 866,899.33 867,898.86 868,898.39 869,897.91 870,897.43 871,896.95 872,896.47 873,895.99 874,895.5 875,895.02 876,894.53 877,894.04 878,893.55 879,893.05 880,892.56 881,892.06 882,891.56 883,891.06 884,890.55 885,890.05 886,889.54 887,889.03 888,888.52 889,888.01 890,887.49 891,886.98 892,886.46 893,885.94" fill="none" stroke="#000" stroke-width="4.3" stroke-dasharray="15.9 15.9" stroke-linejoin="round" stroke-dashoffset="29.28"/>
<polyline points="318,1020.75 319,1020.72 320,1020.69 321,1020.66 322,1020.62 323,1020.59 324,1020.56 325,1020.53 326,1020.5 327,1020.46 328,1020.43 329,1020.4 330,1020.36 331,1020.33 332,1020.3 333,1020.26 334,1020.23 335,1020.19 336,1020.16 337,1020.12 338,1020.08 339,1020.05 340,1020.01 341,1019.97 342,1019.94 343,1019.9 344,1019.86 345,1019.82 346,1019.78 347,1019.74 348,1019.7 349,1019.66 350,1019.62 351,1019.58 352,1019.54 353,1019.5 354,1019.46 355,1019.42 356,1019.37 357,1019.33 358,1019.29 359,1019.24 360,1019.2 361,1019.16 362,1019.11 363,1019.06 364,1019.02 365,1018.97 366,1018.93 367,1018.88 368,1018.83 369,1018.78 370,1018.74 371,1018.69 372,1018.64 373,1018.59 374,1018.54 375,1018.49 376,1018.44 377,1018.39 378,1018.33 379,1018.28 380,1018.23 381,1018.17 382,1018.12 383,1018.07 384,1018.01 385,1017.96 386,1017.9 387,1017.84 388,1017.79 389,1017.73 390,1017.67 391,1017.61 392,1017.56 393,1017.5 394,1017.44 395,1017.38 396,1017.31 397,1017.25 398,1017.19 399,1017.13 400,1017.06 401,1017 402,1016.94 403,1016.87 404,1016.81 405,1016.74 406,1016.67 407,1016.6 408,1016.54 409,1016.47 410,1016.4 411,1016.33 412,1016.26 413,1016.19 414,1016.11 415,1016.04 416,1015.97 417,1015.9 418,1015.82 419,1015.75 420,1015.67 421,1015.59 422,1015.52 423,1015.44 424,1015.36 425,1015.28 426,1015.2 427,1015.12 428,1015.04 429,1014.95 430,1014.87 431,1014.79 432,1014.7 433,1014.62 434,1014.53 435,1014.45 436,1014.36 437,1014.27 438,1014.18 439,1014.09 440,1014 441,1013.91 442,1013.81 443,1013.72 444,1013.63 445,1013.53 446,1013.44 447,1013.34 448,1013.24 449,1013.14 450,1013.04 451,1012.94 452,1012.84 453,1012.74 454,1012.64 455,1012.53 456,1012.43 457,1012.32 458,1012.21 459,1012.11 460,1012 461,1011.89 462,1011.78 463,1011.66 464,1011.55 465,1011.44 466,1011.32 467,1011.21 468,1011.09 469,1010.97 470,1010.85 471,1010.73 472,1010.61 473,1010.49 474,1010.36 475,1010.24 476,1010.11 477,1009.99 478,1009.86 479,1009.73 480,1009.6 481,1009.47 482,1009.33 483,1009.2 484,1009.06 485,1008.93 486,1008.79 487,1008.65 488,1008.51 489,1008.37 490,1008.22 491,1008.08 492,1007.93 493,1007.79 494,1007.64 495,1007.49 496,1007.34 497,1007.19 498,1007.03 499,1006.88 500,1006.72 501,1006.56 502,1006.41 503,1006.24 504,1006.08 505,1005.92 506,1005.75 507,1005.59 508,1005.42 509,1005.25 510,1005.08 511,1004.9 512,1004.73 513,1004.55 514,1004.38 515,1004.2 516,1004.02 517,1003.83 518,1003.65 519,1003.46 520,1003.28 521,1003.09 522,1002.9 523,1002.7 524,1002.51 525,1002.31 526,1002.12 527,1001.92 528,1001.72 529,1001.51 530,1001.31 531,1001.1 532,1000.89 533,1000.68 534,1000.47 535,1000.25 536,1000.04 537,999.82 538,999.6 539,999.37 540,999.15 541,998.92 542,998.69 543,998.46 544,998.23 545,998 546,997.76 547,997.52 548,997.28 549,997.03 550,996.79 551,996.54 552,996.29 553,996.04 554,995.78 555,995.53 556,995.27 557,995 558,994.74 559,994.47 560,994.2 561,993.93 562,993.66 563,993.38 564,993.1 565,992.82 566,992.54 567,992.25 568,991.96 569,991.67 570,991.38 571,991.08 572,990.78 573,990.48 574,990.17 575,989.86 576,989.55 577,989.24 578,988.92 579,988.6 580,988.28 581,987.95 582,987.62 583,987.29 584,986.96 585,986.62 586,986.28 587,985.94 588,985.59 589,985.24 590,984.89 591,984.53 592,984.17 593,983.81 594,983.44 595,983.08 596,982.7 597,982.33 598,981.95 599,981.56 600,981.18 601,980.79 602,980.39 603,980 604,979.6 605,979.19 606,978.79 607,978.37 608,977.96 609,977.54 610,977.12 611,976.69 612,976.26 613,975.82 614,975.39 615,974.94 616,974.5 617,974.05 618,973.59 619,973.13 620,972.67 621,972.2 622,971.73 623,971.26 624,970.78 625,970.29 626,969.8 627,969.31 628,968.81 629,968.31 630,967.8 631,967.29 632,966.78 633,966.25 634,965.73 635,965.2 636,964.66 637,964.12 638,963.58 639,963.03 640,962.48 641,961.92 642,961.35 643,960.78 644,960.21 645,959.63 646,959.04 647,958.45 648,957.85 649,957.25 650,956.64 651,956.03 652,955.41 653,954.79 654,954.16 655,953.52 656,952.88 657,952.24 658,951.58 659,950.92 660,950.26 661,949.59 662,948.91 663,948.23 664,947.54 665,946.85 666,946.14 667,945.44 668,944.72 669,944 670,943.27 671,942.54 672,941.8 673,941.05 674,940.3 675,939.53 676,938.77 677,937.99 678,937.21 679,936.42 680,935.62 681,934.82 682,934.01 683,933.19 684,932.37 685,931.53 686,930.69 687,929.84 688,928.99 689,928.12 690,927.25 691,926.37 692,925.48 693,924.59 694,923.68 695,922.77 696,921.85 697,920.92 698,919.99 699,919.04 700,918.09 701,917.12 702,916.15 703,915.17 704,914.18 705,913.18 706,912.18 707,911.16 708,910.13 709,909.1 710,908.05 711,907 712,905.94 713,904.86 714,903.78 715,902.69 716,901.58 717,900.47 718,899.35 719,898.21 720,897.07 721,895.92 722,894.75 723,893.58 724,892.39 725,891.2 726,889.99 727,888.77 728,887.54 729,886.3 730,885.05 731,883.79 732,882.51 733,881.23 734,879.93 735,878.62 736,877.3 737,875.97 738,874.62 739,873.26 740,871.89 741,870.51 742,869.11 743,867.71 744,866.29 745,864.85 746,863.41 747,861.95 748,860.47 749,858.99 750,857.49 751,855.97 752,854.45 753,852.91 754,851.35 755,849.78 756,848.2 757,846.6 758,844.99 759,843.36 760,841.72 761,840.06 762,838.39 763,836.71 764,835 765,833.29 766,831.55 767,829.8 768,828.04 769,826.26 770,824.46 771,822.65 772,820.82 773,818.97 774,817.11 775,815.23 776,813.33 777,811.42 778,809.49 779,807.54 780,805.57 781,803.58 782,801.58 783,799.56 784,797.52 785,795.46 786,793.39 787,791.29 788,789.18 789,787.04 790,784.89 791,782.72 792,780.52 793,778.31 794,776.08 795,773.83 796,771.55 797,769.26 798,766.95 799,764.61 800,762.25 801,759.87 802,757.47 803,755.05 804,752.61 805,750.14 806,747.65 807,745.14 808,742.61 809,740.05 810,737.47 811,734.87 812,732.24 813,729.59 814,726.92 815,724.22 816,721.49 817,718.75 818,715.97 819,713.17 820,710.35 821,707.5 822,704.62 823,701.72 824,698.79 825,695.84 826,692.86 827,689.85 828,686.81 829,683.75 830,680.66 831,677.54 832,674.39 833,671.21" fill="none" stroke="#0000b2" stroke-width="4.3" stroke-dasharray="15.9 15.9" stroke-linejoin="round" stroke-dashoffset="27.45"/>
<polyline points="318,1015.19 319,1015.06 320,1014.92 321,1014.78 322,1014.64 323,1014.5 324,1014.35 325,1014.2 326,1014.05 327,1013.9 328,1013.75 329,1013.59 330,1013.43 331,1013.27 332,1013.11 333,1012.94 334,1012.78 335,1012.6 336,1012.43 337,1012.25 338,1012.08 339,1011.89 340,1011.71 341,1011.52 342,1011.33 343,1011.14 344,1010.94 345,1010.75 346,1010.54 347,1010.34 348,1010.13 349,1009.92 350,1009.71 351,1009.49 352,1009.27 353,1009.04 354,1008.82 355,1008.59 356,1008.35 357,1008.11 358,1007.87 359,1007.63 360,1007.38 361,1007.13 362,1006.87 363,1006.61 364,1006.35 365,1006.08 366,1005.81 367,1005.53 368,1005.25 369,1004.96 370,1004.68 371,1004.38 372,1004.08 373,1003.78 374,1003.48 375,1003.16 376,1002.85 377,1002.53 378,1002.2 379,1001.87 380,1001.54 381,1001.19 382,1000.85 383,1000.5 384,1000.14 385,999.78 386,999.41 387,999.04 388,998.66 389,998.28 390,997.89 391,997.49 392,997.09 393,996.68 394,996.27 395,995.85 396,995.42 397,994.99 398,994.55 399,994.1 400,993.65 401,993.19 402,992.72 403,992.25 404,991.77 405,991.28 406,990.78 407,990.28 408,989.77 409,989.25 410,988.72 411,988.19 412,987.65 413,987.1 414,986.54 415,985.97 416,985.4 417,984.81 418,984.22 419,983.62 420,983 421,982.38 422,981.75 423,981.11 424,980.47 425,979.81 426,979.14 427,978.46 428,977.77 429,977.07 430,976.36 431,975.64 432,974.91 433,974.16 434,973.41 435,972.65 436,971.87 437,971.08 438,970.28 439,969.47 440,968.64 441,967.8 442,966.95 443,966.09 444,965.22 445,964.33 446,963.42 447,962.51 448,961.58 449,960.63 450,959.67 451,958.7 452,957.71 453,956.71 454,955.69 455,954.66 456,953.61 457,952.55 458,951.47 459,950.37 460,949.26 461,948.13 462,946.98 463,945.82 464,944.63 465,943.43 466,942.22 467,940.98 468,939.72 469,938.45 470,937.16 471,935.84 472,934.51 473,933.16 474,931.79 475,930.39 476,928.98 477,927.54 478,926.08 479,924.6 480,923.1 481,921.57 482,920.03 483,918.45 484,916.86 485,915.24 486,913.6 487,911.93 488,910.23 489,908.51 490,906.77 491,905 492,903.2 493,901.37 494,899.52 495,897.64 496,895.73 497,893.79 498,891.82 499,889.83 500,887.8 501,885.74 502,883.65 503,881.53 504,879.38 505,877.19 506,874.97 507,872.72 508,870.44 509,868.12 510,865.76 511,863.37 512,860.94 513,858.48 514,855.98 515,853.44 516,850.86 517,848.25 518,845.59 519,842.9 520,840.16 521,837.38 522,834.56 523,831.7 524,828.79 525,825.85 526,822.85 527,819.81 528,816.73 529,813.6 530,810.42 531,807.19 532,803.92 533,800.59 534,797.22 535,793.79 536,790.31 537,786.78 538,783.2 539,779.56 540,775.87 541,772.12 542,768.32 543,764.45 544,760.53 545,756.55 546,752.51 547,748.41 548,744.25 549,740.02 550,735.73 551,731.38 552,726.96 553,722.47 554,717.92 555,713.29 556,708.6 557,703.84 558,699 559,694.09 560,689.11 561,684.05 562,678.92 563,673.7 564,668.41 565,663.04" fill="none" stroke="#b20000" stroke-width="4.3" stroke-dasharray="15.9 15.9" stroke-linejoin="round" stroke-dashoffset="30.77"/>
<polygon points="344.5,980 351.1,988.6 344.5,997.2 337.9,988.6" fill="#000"/>
<polygon points="370.5,1002.4 377.1,1011 370.5,1019.6 363.9,1011" fill="#000"/>
<polygon points="397.7,1002.4 404.3,1011 397.7,1019.6 391.1,1011" fill="#000"/>
<polygon points="424.5,988.6 431.1,997.2 424.5,1005.8 417.9,997.2" fill="#000"/>
<polygon points="451.4,987.3 458,995.9 451.4,1004.5 444.8,995.9" fill="#000"/>
<polygon points="477.4,989.5 484,998.1 477.4,1006.7 470.8,998.1" fill="#000"/>
<polygon points="504.4,985.6 511,994.2 504.4,1002.8 497.8,994.2" fill="#000"/>
<polygon points="558.5,967.5 565.1,976.1 558.5,984.7 551.9,976.1" fill="#000"/>
<polygon points="584.5,952.8 591.1,961.4 584.5,970 577.9,961.4" fill="#000"/>
<polygon points="344.5,893.6 351.1,902.2 344.5,910.8 337.9,902.2" fill="#00b200"/>
<polygon points="370.5,963.5 377.1,972.1 370.5,980.7 363.9,972.1" fill="#00b200"/>
<polygon points="424.4,889.7 431,898.3 424.4,906.9 417.8,898.3" fill="#00b200"/>
<polygon points="318,1006 324.6,1014.6 318,1023.2 311.4,1014.6" fill="#b20000"/>
<polygon points="344.5,1004.4 351.1,1013 344.5,1021.6 337.9,1013" fill="#b20000"/>
<polygon points="370.5,997.9 377.1,1006.5 370.5,1015.1 363.9,1006.5" fill="#b20000"/>
<polygon points="397.7,990.8 404.3,999.4 397.7,1008 391.1,999.4" fill="#b20000"/>
<polygon points="424.5,961.8 431.1,970.4 424.5,979 417.9,970.4" fill="#b20000"/>
<polygon points="451.4,960.9 458,969.5 451.4,978.1 444.8,969.5" fill="#b20000"/>
<polygon points="477.3,923.8 483.9,932.4 477.3,941 470.7,932.4" fill="#b20000"/>
<polygon points="504.4,960.9 511,969.5 504.4,978.1 497.8,969.5" fill="#b20000"/>
<polygon points="558.5,815.8 565.1,824.4 558.5,833 551.9,824.4" fill="#b20000"/>
<polygon points="584.4,866.6 591,875.2 584.4,883.8 577.8,875.2" fill="#b20000"/>
<polygon points="344.5,1012 351.1,1020.6 344.5,1029.2 337.9,1020.6" fill="#0000b2"/>
<polygon points="370.5,1012.9 377.1,1021.5 370.5,1030.1 363.9,1021.5" fill="#0000b2"/>
<polygon points="397.7,1008.6 404.3,1017.2 397.7,1025.8 391.1,1017.2" fill="#0000b2"/>
<polygon points="424.5,1005.9 431.1,1014.5 424.5,1023.1 417.9,1014.5" fill="#0000b2"/>
<polygon points="451.4,1004.2 458,1012.8 451.4,1021.4 444.8,1012.8" fill="#0000b2"/>
<polygon points="477.4,1004.2 484,1012.8 477.4,1021.4 470.8,1012.8" fill="#0000b2"/>
<polygon points="504.4,994.7 511,1003.3 504.4,1011.9 497.8,1003.3" fill="#0000b2"/>
<polygon points="531.4,986.8 538,995.4 531.4,1004 524.8,995.4" fill="#0000b2"/>
<polygon points="558.5,992.8 565.1,1001.4 558.5,1010 551.9,1001.4" fill="#0000b2"/>
<polygon points="584.5,982.3 591.1,990.9 584.5,999.5 577.9,990.9" fill="#0000b2"/>
<polygon points="611.3,972 617.9,980.6 611.3,989.2 604.7,980.6" fill="#0000b2"/>
<polygon points="638.4,936.9 645,945.5 638.4,954.1 631.8,945.5" fill="#0000b2"/>
<polygon points="664.5,967.8 671.1,976.4 664.5,985 657.9,976.4" fill="#0000b2"/>
<polygon points="691.4,929.9 698,938.5 691.4,947.1 684.8,938.5" fill="#0000b2"/>
</g>
<text x="533.8" y="767.2" font-size="20" fill="#b20000" transform="rotate(-74.8 533.8 767.2)">m=2.49</text>
<text x="789.1" y="757.8" font-size="20" fill="#0000b2" transform="rotate(-63 789.1 757.8)">m=1.47</text>
<text x="845" y="923" font-size="20" fill="#000" transform="rotate(-18.5 845 923)">m=0.61</text>
<line x1="119.5" y1="1024.5" x2="127.5" y2="1024.5" stroke="#262626" stroke-width="1.2"/>
<line x1="936.5" y1="1024.5" x2="944.5" y2="1024.5" stroke="#262626" stroke-width="1.2"/>
<text x="110.6" y="1031.8" font-size="20" text-anchor="end" fill="#262626" font-weight="normal" letter-spacing="0.6">0</text>
<line x1="119.5" y1="966.5" x2="127.5" y2="966.5" stroke="#262626" stroke-width="1.2"/>
<line x1="936.5" y1="966.5" x2="944.5" y2="966.5" stroke="#262626" stroke-width="1.2"/>
<text x="110.6" y="973.8" font-size="20" text-anchor="end" fill="#262626" font-weight="normal" letter-spacing="0.6">1</text>
<line x1="119.5" y1="909.5" x2="127.5" y2="909.5" stroke="#262626" stroke-width="1.2"/>
<line x1="936.5" y1="909.5" x2="944.5" y2="909.5" stroke="#262626" stroke-width="1.2"/>
<text x="110.6" y="916.8" font-size="20" text-anchor="end" fill="#262626" font-weight="normal" letter-spacing="0.6">2</text>
<line x1="119.5" y1="852.5" x2="127.5" y2="852.5" stroke="#262626" stroke-width="1.2"/>
<line x1="936.5" y1="852.5" x2="944.5" y2="852.5" stroke="#262626" stroke-width="1.2"/>
<text x="110.6" y="859.8" font-size="20" text-anchor="end" fill="#262626" font-weight="normal" letter-spacing="0.6">3</text>
<line x1="119.5" y1="794.5" x2="127.5" y2="794.5" stroke="#262626" stroke-width="1.2"/>
<line x1="936.5" y1="794.5" x2="944.5" y2="794.5" stroke="#262626" stroke-width="1.2"/>
<text x="110.6" y="801.8" font-size="20" text-anchor="end" fill="#262626" font-weight="normal" letter-spacing="0.6">4</text>
<line x1="119.5" y1="737.5" x2="127.5" y2="737.5" stroke="#262626" stroke-width="1.2"/>
<line x1="936.5" y1="737.5" x2="944.5" y2="737.5" stroke="#262626" stroke-width="1.2"/>
<text x="110.6" y="744.8" font-size="20" text-anchor="end" fill="#262626" font-weight="normal" letter-spacing="0.6">5</text>
<line x1="119.5" y1="680.5" x2="127.5" y2="680.5" stroke="#262626" stroke-width="1.2"/>
<line x1="936.5" y1="680.5" x2="944.5" y2="680.5" stroke="#262626" stroke-width="1.2"/>
<text x="110.6" y="687.8" font-size="20" text-anchor="end" fill="#262626" font-weight="normal" letter-spacing="0.6">6</text>
<rect x="127.5" y="666.5" width="809" height="364" fill="none" stroke="#262626" stroke-width="1.2"/>
<text x="151.8" y="689.5" font-size="20" text-anchor="start" fill="#000" font-weight="bold">C)</text>
<text x="78.2" y="848.7" font-size="20" fill="#262626" letter-spacing="0.6" text-anchor="middle" transform="rotate(-90 78.2 848.7)">W<tspan font-size="17" dy="10">s</tspan><tspan dy="-10"> [mm s</tspan><tspan font-size="17" dy="-10">-1</tspan><tspan dy="10">]</tspan></text>
<line x1="127.5" y1="1435.5" x2="127.5" y2="1443.5" stroke="#262626" stroke-width="1.2"/>
<line x1="127.5" y1="1073.5" x2="127.5" y2="1065.5" stroke="#262626" stroke-width="1.2"/>
<line x1="239.5" y1="1435.5" x2="239.5" y2="1439.5" stroke="#262626" stroke-width="1.2"/>
<line x1="239.5" y1="1073.5" x2="239.5" y2="1069.5" stroke="#262626" stroke-width="1.2"/>
<line x1="304.5" y1="1435.5" x2="304.5" y2="1439.5" stroke="#262626" stroke-width="1.2"/>
<line x1="304.5" y1="1073.5" x2="304.5" y2="1069.5" stroke="#262626" stroke-width="1.2"/>
<line x1="351.5" y1="1435.5" x2="351.5" y2="1439.5" stroke="#262626" stroke-width="1.2"/>
<line x1="351.5" y1="1073.5" x2="351.5" y2="1069.5" stroke="#262626" stroke-width="1.2"/>
<line x1="387.5" y1="1435.5" x2="387.5" y2="1439.5" stroke="#262626" stroke-width="1.2"/>
<line x1="387.5" y1="1073.5" x2="387.5" y2="1069.5" stroke="#262626" stroke-width="1.2"/>
<line x1="416.5" y1="1435.5" x2="416.5" y2="1439.5" stroke="#262626" stroke-width="1.2"/>
<line x1="416.5" y1="1073.5" x2="416.5" y2="1069.5" stroke="#262626" stroke-width="1.2"/>
<line x1="441.5" y1="1435.5" x2="441.5" y2="1439.5" stroke="#262626" stroke-width="1.2"/>
<line x1="441.5" y1="1073.5" x2="441.5" y2="1069.5" stroke="#262626" stroke-width="1.2"/>
<line x1="462.5" y1="1435.5" x2="462.5" y2="1439.5" stroke="#262626" stroke-width="1.2"/>
<line x1="462.5" y1="1073.5" x2="462.5" y2="1069.5" stroke="#262626" stroke-width="1.2"/>
<line x1="482.5" y1="1435.5" x2="482.5" y2="1439.5" stroke="#262626" stroke-width="1.2"/>
<line x1="482.5" y1="1073.5" x2="482.5" y2="1069.5" stroke="#262626" stroke-width="1.2"/>
<line x1="499.5" y1="1435.5" x2="499.5" y2="1443.5" stroke="#262626" stroke-width="1.2"/>
<line x1="499.5" y1="1073.5" x2="499.5" y2="1065.5" stroke="#262626" stroke-width="1.2"/>
<line x1="610.5" y1="1435.5" x2="610.5" y2="1439.5" stroke="#262626" stroke-width="1.2"/>
<line x1="610.5" y1="1073.5" x2="610.5" y2="1069.5" stroke="#262626" stroke-width="1.2"/>
<line x1="676.5" y1="1435.5" x2="676.5" y2="1439.5" stroke="#262626" stroke-width="1.2"/>
<line x1="676.5" y1="1073.5" x2="676.5" y2="1069.5" stroke="#262626" stroke-width="1.2"/>
<line x1="722.5" y1="1435.5" x2="722.5" y2="1439.5" stroke="#262626" stroke-width="1.2"/>
<line x1="722.5" y1="1073.5" x2="722.5" y2="1069.5" stroke="#262626" stroke-width="1.2"/>
<line x1="758.5" y1="1435.5" x2="758.5" y2="1439.5" stroke="#262626" stroke-width="1.2"/>
<line x1="758.5" y1="1073.5" x2="758.5" y2="1069.5" stroke="#262626" stroke-width="1.2"/>
<line x1="788.5" y1="1435.5" x2="788.5" y2="1439.5" stroke="#262626" stroke-width="1.2"/>
<line x1="788.5" y1="1073.5" x2="788.5" y2="1069.5" stroke="#262626" stroke-width="1.2"/>
<line x1="812.5" y1="1435.5" x2="812.5" y2="1439.5" stroke="#262626" stroke-width="1.2"/>
<line x1="812.5" y1="1073.5" x2="812.5" y2="1069.5" stroke="#262626" stroke-width="1.2"/>
<line x1="834.5" y1="1435.5" x2="834.5" y2="1439.5" stroke="#262626" stroke-width="1.2"/>
<line x1="834.5" y1="1073.5" x2="834.5" y2="1069.5" stroke="#262626" stroke-width="1.2"/>
<line x1="853.5" y1="1435.5" x2="853.5" y2="1439.5" stroke="#262626" stroke-width="1.2"/>
<line x1="853.5" y1="1073.5" x2="853.5" y2="1069.5" stroke="#262626" stroke-width="1.2"/>
<line x1="870.5" y1="1435.5" x2="870.5" y2="1443.5" stroke="#262626" stroke-width="1.2"/>
<line x1="870.5" y1="1073.5" x2="870.5" y2="1065.5" stroke="#262626" stroke-width="1.2"/>
<text x="132.5" y="1472.9" font-size="20" text-anchor="middle" fill="#262626" font-weight="normal" letter-spacing="0.6">10</text>
<text x="502.3" y="1472.9" font-size="20" text-anchor="middle" fill="#262626" font-weight="normal" letter-spacing="0.6">100</text>
<text x="871.3" y="1472.9" font-size="20" text-anchor="middle" fill="#262626" font-weight="normal" letter-spacing="0.6">1000</text>
<circle cx="382.5" cy="1413.4" r="2.1" fill="#0000ff"/>
<circle cx="385.4" cy="1410.6" r="2.1" fill="#0000ff"/>
<circle cx="388.2" cy="1416.3" r="2.1" fill="#0000ff"/>
<circle cx="389.6" cy="1423.3" r="2.1" fill="#0000ff"/>
<circle cx="385.4" cy="1419.8" r="2.1" fill="#0000ff"/>
<circle cx="382.5" cy="1418.4" r="2.1" fill="#0000ff"/>
<circle cx="432.1" cy="1416.3" r="2.1" fill="#0000ff"/>
<circle cx="436.4" cy="1413.4" r="2.1" fill="#0000ff"/>
<circle cx="439.2" cy="1419.1" r="2.1" fill="#0000ff"/>
<circle cx="443.5" cy="1414.8" r="2.1" fill="#0000ff"/>
<circle cx="444.9" cy="1421.9" r="2.1" fill="#0000ff"/>
<circle cx="433.5" cy="1421.9" r="2.1" fill="#0000ff"/>
<circle cx="442" cy="1427.6" r="2.1" fill="#0000ff"/>
<circle cx="425" cy="1423.3" r="2.1" fill="#0000ff"/>
<circle cx="422.2" cy="1419.1" r="2.1" fill="#0000ff"/>
<circle cx="467.5" cy="1417.7" r="2.1" fill="#0000ff"/>
<circle cx="470.4" cy="1421.9" r="2.1" fill="#0000ff"/>
<circle cx="474.6" cy="1419.1" r="2.1" fill="#0000ff"/>
<circle cx="476" cy="1427.6" r="2.1" fill="#0000ff"/>
<circle cx="467.5" cy="1429" r="2.1" fill="#0000ff"/>
<circle cx="481.7" cy="1426.2" r="2.1" fill="#0000ff"/>
<circle cx="483.1" cy="1423.3" r="2.1" fill="#0000ff"/>
<circle cx="487.4" cy="1419.1" r="2.1" fill="#0000ff"/>
<circle cx="494.5" cy="1419.1" r="2.1" fill="#0000ff"/>
<circle cx="357.2" cy="1408.2" r="2.1" fill="#0000ff"/>
<circle cx="349.6" cy="1416.9" r="2.1" fill="#0000ff"/>
<circle cx="359" cy="1416.9" r="2.1" fill="#0000ff"/>
<circle cx="363.8" cy="1417.6" r="2.1" fill="#0000ff"/>
<circle cx="359" cy="1421.6" r="2.1" fill="#0000ff"/>
<circle cx="357.2" cy="1426.3" r="2.1" fill="#0000ff"/>
<circle cx="371.7" cy="1411.3" r="2.1" fill="#0000ff"/>
<circle cx="370.1" cy="1417.6" r="2.1" fill="#0000ff"/>
<circle cx="374.8" cy="1417.6" r="2.1" fill="#0000ff"/>
<circle cx="373.2" cy="1421.3" r="2.1" fill="#0000ff"/>
<circle cx="367.7" cy="1426.3" r="2.1" fill="#0000ff"/>
<circle cx="370.6" cy="1426.3" r="2.1" fill="#0000ff"/>
<circle cx="379.5" cy="1410.6" r="2.1" fill="#0000ff"/>
<circle cx="380" cy="1424.7" r="2.1" fill="#0000ff"/>
<circle cx="375.6" cy="1431" r="2.1" fill="#0000ff"/>
<circle cx="378.4" cy="1432.3" r="2.1" fill="#0000ff"/>
<circle cx="384.3" cy="1428.7" r="2.1" fill="#0000ff"/>
<circle cx="381.9" cy="1414.5" r="2.1" fill="#0000ff"/>
<circle cx="382.7" cy="1417.6" r="2.1" fill="#0000ff"/>
<circle cx="385.8" cy="1409" r="2.1" fill="#0000ff"/>
<circle cx="386.6" cy="1413.7" r="2.1" fill="#0000ff"/>
<circle cx="389.8" cy="1415.3" r="2.1" fill="#0000ff"/>
<circle cx="387.4" cy="1420" r="2.1" fill="#0000ff"/>
<circle cx="389" cy="1424.7" r="2.1" fill="#0000ff"/>
<circle cx="388" cy="1426" r="2.1" fill="#0000ff"/>
<circle cx="385" cy="1421" r="2.1" fill="#0000ff"/>
<circle cx="397.6" cy="1416.1" r="2.1" fill="#0000ff"/>
<circle cx="401.6" cy="1422.4" r="2.1" fill="#0000ff"/>
<circle cx="404.7" cy="1413.7" r="2.1" fill="#0000ff"/>
<circle cx="407" cy="1413" r="2.1" fill="#0000ff"/>
<circle cx="406.3" cy="1407.4" r="2.1" fill="#0000ff"/>
<circle cx="409.4" cy="1420" r="2.1" fill="#0000ff"/>
<circle cx="410.2" cy="1423.1" r="2.1" fill="#0000ff"/>
<circle cx="415.7" cy="1411.3" r="2.1" fill="#0000ff"/>
<circle cx="417.3" cy="1409" r="2.1" fill="#0000ff"/>
<circle cx="419.7" cy="1412.9" r="2.1" fill="#0000ff"/>
<circle cx="425.2" cy="1409.8" r="2.1" fill="#0000ff"/>
<circle cx="422" cy="1419.2" r="2.1" fill="#0000ff"/>
<circle cx="426" cy="1416.1" r="2.1" fill="#0000ff"/>
<circle cx="424.4" cy="1422.4" r="2.1" fill="#0000ff"/>
<circle cx="426" cy="1427.9" r="2.1" fill="#0000ff"/>
<circle cx="420" cy="1430.2" r="2.1" fill="#0000ff"/>
<circle cx="430.7" cy="1417.6" r="2.1" fill="#0000ff"/>
<circle cx="433.1" cy="1420" r="2.1" fill="#0000ff"/>
<circle cx="433.1" cy="1424.7" r="2.1" fill="#0000ff"/>
<circle cx="437" cy="1409" r="2.1" fill="#0000ff"/>
<circle cx="436.2" cy="1415.3" r="2.1" fill="#0000ff"/>
<circle cx="438.6" cy="1416.1" r="2.1" fill="#0000ff"/>
<circle cx="441" cy="1417.6" r="2.1" fill="#0000ff"/>
<circle cx="434.6" cy="1431.8" r="2.1" fill="#0000ff"/>
<circle cx="438.6" cy="1429.4" r="2.1" fill="#0000ff"/>
<circle cx="443.3" cy="1409" r="2.1" fill="#0000ff"/>
<circle cx="445" cy="1411.3" r="2.1" fill="#0000ff"/>
<circle cx="445.7" cy="1415.3" r="2.1" fill="#0000ff"/>
<circle cx="442.5" cy="1421.6" r="2.1" fill="#0000ff"/>
<circle cx="444.1" cy="1426.3" r="2.1" fill="#0000ff"/>
<circle cx="443.3" cy="1428.7" r="2.1" fill="#0000ff"/>
<circle cx="447.2" cy="1419.2" r="2.1" fill="#0000ff"/>
<circle cx="452" cy="1411.3" r="2.1" fill="#0000ff"/>
<circle cx="451.2" cy="1420" r="2.1" fill="#0000ff"/>
<circle cx="455.1" cy="1423.9" r="2.1" fill="#0000ff"/>
<circle cx="453.5" cy="1426.3" r="2.1" fill="#0000ff"/>
<circle cx="458.3" cy="1415.3" r="2.1" fill="#0000ff"/>
<circle cx="457.5" cy="1417.6" r="2.1" fill="#0000ff"/>
<circle cx="466.9" cy="1417.6" r="2.1" fill="#0000ff"/>
<circle cx="465.4" cy="1421.6" r="2.1" fill="#0000ff"/>
<circle cx="469.3" cy="1419.2" r="2.1" fill="#0000ff"/>
<circle cx="466.1" cy="1424.7" r="2.1" fill="#0000ff"/>
<circle cx="466.9" cy="1427.9" r="2.1" fill="#0000ff"/>
<circle cx="465.4" cy="1431.8" r="2.1" fill="#0000ff"/>
<circle cx="470.1" cy="1426.3" r="2.1" fill="#0000ff"/>
<circle cx="471.7" cy="1409.8" r="2.1" fill="#0000ff"/>
<circle cx="474" cy="1421.6" r="2.1" fill="#0000ff"/>
<circle cx="474.8" cy="1428.7" r="2.1" fill="#0000ff"/>
<circle cx="476.4" cy="1424.7" r="2.1" fill="#0000ff"/>
<circle cx="481.1" cy="1421.6" r="2.1" fill="#0000ff"/>
<circle cx="482.7" cy="1426.3" r="2.1" fill="#0000ff"/>
<circle cx="483.5" cy="1428.7" r="2.1" fill="#0000ff"/>
<circle cx="487.4" cy="1419.2" r="2.1" fill="#0000ff"/>
<circle cx="488.2" cy="1430.2" r="2.1" fill="#0000ff"/>
<circle cx="492.9" cy="1420" r="2.1" fill="#0000ff"/>
<circle cx="493.7" cy="1424.7" r="2.1" fill="#0000ff"/>
<circle cx="496.1" cy="1416.9" r="2.1" fill="#0000ff"/>
<circle cx="498.4" cy="1419.2" r="2.1" fill="#0000ff"/>
<circle cx="493.8" cy="1419.2" r="2.1" fill="#0000ff"/>
<circle cx="497.8" cy="1415.7" r="2.1" fill="#0000ff"/>
<circle cx="493.8" cy="1424.4" r="2.1" fill="#0000ff"/>
<circle cx="504.7" cy="1420.1" r="2.1" fill="#0000ff"/>
<circle cx="504.7" cy="1424.4" r="2.1" fill="#0000ff"/>
<circle cx="507.3" cy="1416.6" r="2.1" fill="#0000ff"/>
<circle cx="512.5" cy="1425.3" r="2.1" fill="#0000ff"/>
<circle cx="512.2" cy="1427" r="2.1" fill="#0000ff"/>
<circle cx="526.9" cy="1414.9" r="2.1" fill="#0000ff"/>
<circle cx="531.6" cy="1413.5" r="2.1" fill="#0000ff"/>
<circle cx="528.1" cy="1426.1" r="2.1" fill="#0000ff"/>
<circle cx="530.2" cy="1427.9" r="2.1" fill="#0000ff"/>
<circle cx="538.2" cy="1429.2" r="2.1" fill="#0000ff"/>
<circle cx="536.8" cy="1422.7" r="2.1" fill="#0000ff"/>
<circle cx="540.2" cy="1421.8" r="2.1" fill="#0000ff"/>
<circle cx="544" cy="1418.3" r="2.1" fill="#0000ff"/>
<circle cx="545.4" cy="1422.3" r="2.1" fill="#0000ff"/>
<circle cx="547.2" cy="1426.1" r="2.1" fill="#0000ff"/>
<circle cx="549.8" cy="1426.1" r="2.1" fill="#0000ff"/>
<circle cx="552.4" cy="1429.6" r="2.1" fill="#0000ff"/>
<circle cx="554.4" cy="1425.3" r="2.1" fill="#0000ff"/>
<circle cx="562.4" cy="1422.2" r="2.1" fill="#0000ff"/>
<circle cx="564.8" cy="1427" r="2.1" fill="#0000ff"/>
<circle cx="569.7" cy="1428.7" r="2.1" fill="#0000ff"/>
<circle cx="576.6" cy="1422.7" r="2.1" fill="#0000ff"/>
<circle cx="582.7" cy="1428.7" r="2.1" fill="#0000ff"/>
<circle cx="596" cy="1425.6" r="2.1" fill="#0000ff"/>
<circle cx="605.2" cy="1420.4" r="2.1" fill="#0000ff"/>
<circle cx="616.5" cy="1421.3" r="2.1" fill="#0000ff"/>
<circle cx="613.9" cy="1428.7" r="2.1" fill="#0000ff"/>
<circle cx="619.9" cy="1431" r="2.1" fill="#0000ff"/>
<circle cx="624.2" cy="1428.7" r="2.1" fill="#0000ff"/>
<circle cx="646.8" cy="1424.4" r="2.1" fill="#0000ff"/>
<circle cx="687.5" cy="1427" r="2.1" fill="#0000ff"/>
<circle cx="398.4" cy="1293.2" r="2.3" fill="#ff0000"/>
<circle cx="459.4" cy="1294.8" r="2.3" fill="#ff0000"/>
<circle cx="366.6" cy="1301.4" r="2.3" fill="#ff0000"/>
<circle cx="415" cy="1320" r="2.3" fill="#ff0000"/>
<circle cx="432.3" cy="1318.4" r="2.3" fill="#ff0000"/>
<circle cx="448.5" cy="1329.4" r="2.3" fill="#ff0000"/>
<circle cx="435.4" cy="1332.1" r="2.3" fill="#ff0000"/>
<circle cx="437.3" cy="1334.2" r="2.3" fill="#ff0000"/>
<circle cx="411" cy="1336.2" r="2.3" fill="#ff0000"/>
<circle cx="457.5" cy="1343.1" r="2.3" fill="#ff0000"/>
<circle cx="490.6" cy="1336.2" r="2.3" fill="#ff0000"/>
<circle cx="490.6" cy="1338.4" r="2.3" fill="#ff0000"/>
<circle cx="378.4" cy="1342" r="2.3" fill="#ff0000"/>
<circle cx="365" cy="1353.1" r="2.3" fill="#ff0000"/>
<circle cx="419.4" cy="1363.3" r="2.3" fill="#ff0000"/>
<circle cx="423.6" cy="1361" r="2.3" fill="#ff0000"/>
<circle cx="470.1" cy="1367.2" r="2.3" fill="#ff0000"/>
<circle cx="324.4" cy="1374.6" r="2.3" fill="#ff0000"/>
<circle cx="386.3" cy="1372" r="2.3" fill="#ff0000"/>
<circle cx="352" cy="1376.4" r="2.3" fill="#ff0000"/>
<circle cx="361.1" cy="1375.4" r="2.3" fill="#ff0000"/>
<circle cx="368.2" cy="1376.7" r="2.3" fill="#ff0000"/>
<circle cx="375.3" cy="1380.6" r="2.3" fill="#ff0000"/>
<circle cx="383.1" cy="1380.3" r="2.3" fill="#ff0000"/>
<circle cx="376.9" cy="1385.4" r="2.3" fill="#ff0000"/>
<circle cx="362.2" cy="1387.4" r="2.3" fill="#ff0000"/>
<circle cx="366.1" cy="1388.5" r="2.3" fill="#ff0000"/>
<circle cx="366.9" cy="1392.9" r="2.3" fill="#ff0000"/>
<circle cx="438.9" cy="1384.6" r="2.3" fill="#ff0000"/>
<circle cx="443.6" cy="1386.5" r="2.3" fill="#ff0000"/>
<circle cx="464.3" cy="1384.6" r="2.3" fill="#ff0000"/>
<circle cx="329.1" cy="1392.4" r="2.3" fill="#ff0000"/>
<circle cx="409.8" cy="1387.7" r="2.3" fill="#ff0000"/>
<circle cx="418.4" cy="1391.7" r="2.3" fill="#ff0000"/>
<circle cx="391" cy="1393.2" r="2.3" fill="#ff0000"/>
<circle cx="394.2" cy="1392.4" r="2.3" fill="#ff0000"/>
<circle cx="407.6" cy="1396.7" r="2.3" fill="#ff0000"/>
<circle cx="426.5" cy="1396.4" r="2.3" fill="#ff0000"/>
<circle cx="444.6" cy="1395.6" r="2.3" fill="#ff0000"/>
<circle cx="452" cy="1395.1" r="2.3" fill="#ff0000"/>
<circle cx="452.8" cy="1398.3" r="2.3" fill="#ff0000"/>
<circle cx="455.9" cy="1396.4" r="2.3" fill="#ff0000"/>
<circle cx="474.5" cy="1395.6" r="2.3" fill="#ff0000"/>
<circle cx="492.9" cy="1399.1" r="2.3" fill="#ff0000"/>
<circle cx="485" cy="1402.7" r="2.3" fill="#ff0000"/>
<circle cx="463" cy="1405" r="2.3" fill="#ff0000"/>
<circle cx="347.2" cy="1399.1" r="2.3" fill="#ff0000"/>
<circle cx="340.2" cy="1403.5" r="2.3" fill="#ff0000"/>
<circle cx="374.8" cy="1403.9" r="2.3" fill="#ff0000"/>
<circle cx="379.5" cy="1400.8" r="2.3" fill="#ff0000"/>
<circle cx="383.9" cy="1397.2" r="2.3" fill="#ff0000"/>
<circle cx="368.8" cy="1402.7" r="2.3" fill="#ff0000"/>
<circle cx="364.6" cy="1406.6" r="2.3" fill="#ff0000"/>
<circle cx="387.4" cy="1407.4" r="2.3" fill="#ff0000"/>
<circle cx="499.2" cy="1407.4" r="2.3" fill="#ff0000"/>
<circle cx="552.9" cy="1364.3" r="2.3" fill="#ff0000"/>
<circle cx="548.4" cy="1374.7" r="2.3" fill="#ff0000"/>
<circle cx="502.1" cy="1394.6" r="2.3" fill="#ff0000"/>
<circle cx="493.1" cy="1398.9" r="2.3" fill="#ff0000"/>
<circle cx="499.2" cy="1407.6" r="2.3" fill="#ff0000"/>
<circle cx="577.5" cy="1398.9" r="2.3" fill="#ff0000"/>
<circle cx="419.2" cy="1235" r="2.3" fill="#00ff00"/>
<circle cx="368.2" cy="1269.8" r="2.3" fill="#00ff00"/>
<circle cx="363.3" cy="1274.8" r="2.3" fill="#00ff00"/>
<circle cx="354.6" cy="1286.6" r="2.3" fill="#00ff00"/>
<circle cx="366.8" cy="1286.9" r="2.3" fill="#00ff00"/>
<polyline points="317.6,1383 344.1,1301.9 370.1,1390.9 397.6,1407.4 424.4,1393.2 478,1414.5 490,1415.4 504.3,1417 530.7,1421.3 558.4,1417.1 584.4,1418.9 612.1,1426.5 638.1,1424.9 665,1429.2 690.9,1427.3" fill="none" stroke="#000" stroke-width="3.3" stroke-linejoin="round"/>
<line x1="119.5" y1="1435.5" x2="127.5" y2="1435.5" stroke="#262626" stroke-width="1.2"/>
<line x1="936.5" y1="1435.5" x2="944.5" y2="1435.5" stroke="#262626" stroke-width="1.2"/>
<text x="110.6" y="1442.8" font-size="20" text-anchor="end" fill="#262626" font-weight="normal" letter-spacing="0.6">1000</text>
<line x1="119.5" y1="1344.5" x2="127.5" y2="1344.5" stroke="#262626" stroke-width="1.2"/>
<line x1="936.5" y1="1344.5" x2="944.5" y2="1344.5" stroke="#262626" stroke-width="1.2"/>
<text x="110.6" y="1351.8" font-size="20" text-anchor="end" fill="#262626" font-weight="normal" letter-spacing="0.6">1500</text>
<line x1="119.5" y1="1254.5" x2="127.5" y2="1254.5" stroke="#262626" stroke-width="1.2"/>
<line x1="936.5" y1="1254.5" x2="944.5" y2="1254.5" stroke="#262626" stroke-width="1.2"/>
<text x="110.6" y="1261.8" font-size="20" text-anchor="end" fill="#262626" font-weight="normal" letter-spacing="0.6">2000</text>
<line x1="119.5" y1="1163.5" x2="127.5" y2="1163.5" stroke="#262626" stroke-width="1.2"/>
<line x1="936.5" y1="1163.5" x2="944.5" y2="1163.5" stroke="#262626" stroke-width="1.2"/>
<text x="110.6" y="1170.8" font-size="20" text-anchor="end" fill="#262626" font-weight="normal" letter-spacing="0.6">2500</text>
<line x1="119.5" y1="1073.5" x2="127.5" y2="1073.5" stroke="#262626" stroke-width="1.2"/>
<line x1="936.5" y1="1073.5" x2="944.5" y2="1073.5" stroke="#262626" stroke-width="1.2"/>
<text x="110.6" y="1080.8" font-size="20" text-anchor="end" fill="#262626" font-weight="normal" letter-spacing="0.6">3000</text>
<rect x="127.5" y="1073.5" width="809" height="362" fill="none" stroke="#262626" stroke-width="1.2"/>
<text x="160.3" y="1102" font-size="20" text-anchor="start" fill="#000" font-weight="bold">D)</text>
<text x="50.7" y="1254" font-size="21" fill="#262626" letter-spacing="0.75" text-anchor="middle" transform="rotate(-90 50.7 1254)">particle density [kg · m<tspan font-size="17" dy="-10">-3</tspan><tspan dy="10">]</tspan></text>
<text x="529.5" y="1501.4" font-size="20" fill="#262626" letter-spacing="0.6" text-anchor="middle">esd [<tspan font-family="Liberation Serif, serif" font-style="italic">μ</tspan>m]</text>
<line x1="982.5" y1="1024.5" x2="986.5" y2="1024.5" stroke="#262626" stroke-width="1.2"/>
<line x1="1212.5" y1="1024.5" x2="1216.5" y2="1024.5" stroke="#262626" stroke-width="1.2"/>
<line x1="982.5" y1="966.5" x2="986.5" y2="966.5" stroke="#262626" stroke-width="1.2"/>
<line x1="1212.5" y1="966.5" x2="1216.5" y2="966.5" stroke="#262626" stroke-width="1.2"/>
<line x1="982.5" y1="909.5" x2="986.5" y2="909.5" stroke="#262626" stroke-width="1.2"/>
<line x1="1212.5" y1="909.5" x2="1216.5" y2="909.5" stroke="#262626" stroke-width="1.2"/>
<line x1="982.5" y1="852.5" x2="986.5" y2="852.5" stroke="#262626" stroke-width="1.2"/>
<line x1="1212.5" y1="852.5" x2="1216.5" y2="852.5" stroke="#262626" stroke-width="1.2"/>
<line x1="982.5" y1="794.5" x2="986.5" y2="794.5" stroke="#262626" stroke-width="1.2"/>
<line x1="1212.5" y1="794.5" x2="1216.5" y2="794.5" stroke="#262626" stroke-width="1.2"/>
<line x1="982.5" y1="737.5" x2="986.5" y2="737.5" stroke="#262626" stroke-width="1.2"/>
<line x1="1212.5" y1="737.5" x2="1216.5" y2="737.5" stroke="#262626" stroke-width="1.2"/>
<line x1="982.5" y1="680.5" x2="986.5" y2="680.5" stroke="#262626" stroke-width="1.2"/>
<line x1="1212.5" y1="680.5" x2="1216.5" y2="680.5" stroke="#262626" stroke-width="1.2"/>
<polyline points="982.5,1022.5 1110.8,1017 1178.7,1014.4 1193.8,1011.9 1127.2,1003.1 1120.9,994.3 1074.4,985.5 1074.4,975.5 997.7,962.9 1034.2,946.6 987.7,907.6 983.9,896.3 992.7,867.4 985.1,826 983.5,750 981.9,667" fill="none" stroke="#000" stroke-width="3.3" stroke-dasharray="12.5 11.5" stroke-linejoin="round"/>
<polyline points="981.4,1017 1007.8,1014.4 1019,1006 1009,994 1012,986.8 1011.5,979.3 1004,970 993.9,962.9 1001.5,945.3 990.2,924 982.6,901.3 993.9,867.4 985.1,828.4 983.5,750 981.9,667" fill="none" stroke="#ff0000" stroke-width="3.3" stroke-dasharray="12.5 11.5" stroke-linejoin="round"/>
<polyline points="982.6,1023.2 1110.8,1017 1166.1,1011.9 1153.6,1008.2 1128.4,1001.9 1095.7,995.6 1043,986.8 1040.4,979.3 1001.5,968 981.4,964.2 997.7,955.4 1009,945.3 987.7,913.9 981.6,898.8 981.8,667" fill="none" stroke="#0000ff" stroke-width="3.3" stroke-dasharray="12.5 11.5" stroke-linejoin="round"/>
<polyline points="981.8,1023 981.8,990 990.4,978 981.8,963.7 982.5,956.5 981.7,940 981.7,667" fill="none" stroke="#00ff00" stroke-width="3.3" stroke-dasharray="12.5 11.5" stroke-linejoin="round"/>
<rect x="982.5" y="666.5" width="234" height="364" fill="none" stroke="#262626" stroke-width="1.2"/>
<text x="1180.5" y="696.8" font-size="20" text-anchor="start" fill="#000" font-weight="bold">E)</text>
<line x1="982.5" y1="1344.5" x2="986.5" y2="1344.5" stroke="#262626" stroke-width="1.2"/>
<line x1="1212.5" y1="1344.5" x2="1216.5" y2="1344.5" stroke="#262626" stroke-width="1.2"/>
<line x1="982.5" y1="1254.5" x2="986.5" y2="1254.5" stroke="#262626" stroke-width="1.2"/>
<line x1="1212.5" y1="1254.5" x2="1216.5" y2="1254.5" stroke="#262626" stroke-width="1.2"/>
<line x1="982.5" y1="1163.5" x2="986.5" y2="1163.5" stroke="#262626" stroke-width="1.2"/>
<line x1="1212.5" y1="1163.5" x2="1216.5" y2="1163.5" stroke="#262626" stroke-width="1.2"/>
<line x1="981.4" y1="1290.1" x2="1216.4" y2="1290.1" stroke="#aaaaaa" stroke-width="1.8" stroke-dasharray="9.9 6.17"/>
<line x1="981.4" y1="1407.6" x2="1216.4" y2="1407.6" stroke="#aaaaaa" stroke-width="1.8" stroke-dasharray="9.9 6.17"/>
<rect x="982.5" y="1073.5" width="234" height="362" fill="none" stroke="#262626" stroke-width="1.2"/>
<polyline points="981.5,1077.5 982,1221.9 986,1231.8 982,1238.4 981.4,1256 984.3,1268.2 984.3,1279.2 988,1290.2 989.8,1293.5 982,1312.3 987.6,1321.1 993,1332 1004.1,1339.8 984.3,1347.5 983.8,1356.4 988.7,1360.8 999.7,1367 1000.8,1376.2 1001.9,1386.1 1022.8,1395 1030,1405 1050,1410 1191.5,1421.4 1093.4,1430.2" fill="none" stroke="#000" stroke-width="3.3" stroke-dasharray="12.5 11.5" stroke-linejoin="round"/>
<polyline points="981.5,1077.5 982,1221.9 986,1231.8 982,1238.4 981.4,1256 984.3,1268.2 984.3,1279.2 988,1290.2 989.8,1293.5 982,1312.3 987.6,1321.1 993,1336.5 994.2,1339.8 984.3,1347.5 983.8,1356.4 988.7,1367.4 1000.8,1376.2 1001.9,1386.1 1022.8,1395 1023.9,1402.7 1079,1412.6 1191.5,1421.4 1093.4,1430.2" fill="none" stroke="#000" stroke-width="3.3" stroke-linejoin="round"/>
<text x="1178" y="1106.7" font-size="20" text-anchor="start" fill="#000" font-weight="bold">F)</text>
<rect x="969.5" y="17.5" width="281" height="468" fill="#fff" stroke="#262626" stroke-width="1.2"/>
<text x="979.8" y="45.9" font-size="20" fill="#000" letter-spacing="0.55" xml:space="preserve">ID: M5424_0</text>
<text x="979.8" y="72.6" font-size="20" fill="#000" letter-spacing="0.55" xml:space="preserve">Sample Date: 18-Sep-2014</text>
<text x="979.8" y="99.8" font-size="20" fill="#000" letter-spacing="0.55" xml:space="preserve">Sample Time: 11:17:09 AM</text>
<text x="979.8" y="126.5" font-size="20" fill="#000" letter-spacing="0.55" xml:space="preserve">Depth=3.67432 m</text>
<text x="979.8" y="152.9" font-size="20" fill="#000" letter-spacing="0.55" xml:space="preserve">N=226 particles</text>
<text x="979.8" y="180.6" font-size="20" fill="#000" letter-spacing="0.55" xml:space="preserve">d<tspan font-size="17" dy="10">50,p</tspan><tspan dy="-10">=  69.7 </tspan><tspan font-family="Liberation Serif, serif" font-style="italic">μ</tspan>m</text>
<text x="979.8" y="216.7" font-size="20" fill="#000" letter-spacing="0.55" xml:space="preserve">d<tspan font-size="17" dy="10">50,m</tspan><tspan dy="-10">=  99.9 </tspan><tspan font-family="Liberation Serif, serif" font-style="italic">μ</tspan>m</text>
<text x="979.8" y="258.8" font-size="20" fill="#000" letter-spacing="0.55" xml:space="preserve">ws<tspan font-size="17" dy="10">50,p</tspan><tspan dy="-10">= 0.264 mm·s</tspan><tspan font-size="17" dy="-10">-1</tspan></text>
<text x="979.8" y="300.4" font-size="20" fill="#000" letter-spacing="0.55" xml:space="preserve">ws<tspan font-size="17" dy="10">50,m</tspan><tspan dy="-10">= 0.545 mm·s</tspan><tspan font-size="17" dy="-10">-1</tspan></text>
<text x="979.8" y="336.3" font-size="20" fill="#000" letter-spacing="0.55" xml:space="preserve">%_f(c,m): 68.6 66.6</text>
<text x="979.8" y="363.5" font-size="20" fill="#000" letter-spacing="0.55" xml:space="preserve">%_ba(c,m): 28.8 30.9</text>
<text x="979.8" y="390.6" font-size="20" fill="#000" letter-spacing="0.55" xml:space="preserve">%_p(c,m): 2.7 2.5</text>
<text x="979.8" y="417.8" font-size="20" fill="#000" letter-spacing="0.55" xml:space="preserve">AnalysisDate: 30-Mar-2017</text>
<text x="979.8" y="445.0" font-size="20" fill="#000" letter-spacing="0.55" xml:space="preserve">File: 20140918111709.seq</text>
</svg></body></html>
